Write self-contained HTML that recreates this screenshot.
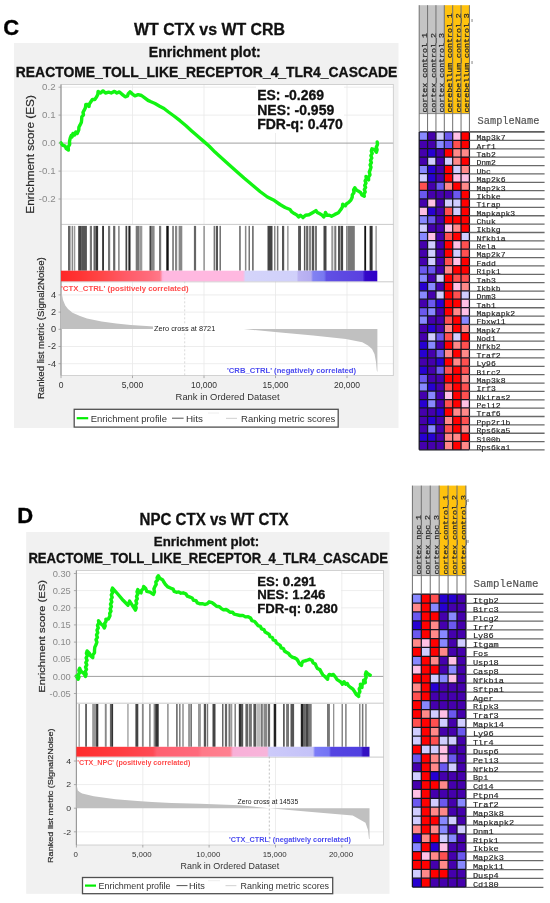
<!DOCTYPE html>
<html><head><meta charset="utf-8"><style>
html,body{margin:0;padding:0;background:#fff;width:550px;height:903px;overflow:hidden}
svg{display:block;filter:blur(0.45px)}

</style></head><body>
<svg width="550" height="903" viewBox="0 0 550 903" font-family="&quot;Liberation Sans&quot;, sans-serif">
<rect width="550" height="903" fill="#ffffff"/>
<text x="3.2" y="34.6" font-size="22" font-weight="bold" fill="#000" stroke="#000" stroke-width="0.35">C</text>
<text x="134" y="35.4" font-size="16" font-weight="bold" fill="#111" stroke="#111" stroke-width="0.3" textLength="151" lengthAdjust="spacingAndGlyphs">WT CTX vs WT CRB</text>
<rect x="14" y="43" width="384.5" height="385" fill="#f1f1f1"/>
<text x="148.8" y="57" font-size="14" font-weight="bold" fill="#111" stroke="#111" stroke-width="0.3" textLength="112" lengthAdjust="spacingAndGlyphs">Enrichment plot:</text>
<text x="15.8" y="76.6" font-size="14.6" font-weight="bold" fill="#111" stroke="#111" stroke-width="0.3" textLength="381.5" lengthAdjust="spacingAndGlyphs">REACTOME_TOLL_LIKE_RECEPTOR_4_TLR4_CASCADE</text>
<rect x="61.0" y="84.5" width="332.3" height="291.1" fill="#ffffff"/>
<line x1="61.0" y1="87.2" x2="393.3" y2="87.2" stroke="#e9e9e9" stroke-width="0.8"/>
<line x1="61.0" y1="115.1" x2="393.3" y2="115.1" stroke="#e9e9e9" stroke-width="0.8"/>
<line x1="61.0" y1="171.1" x2="393.3" y2="171.1" stroke="#e9e9e9" stroke-width="0.8"/>
<line x1="61.0" y1="199.0" x2="393.3" y2="199.0" stroke="#e9e9e9" stroke-width="0.8"/>
<line x1="132.5" y1="84.5" x2="132.5" y2="224.4" stroke="#e9e9e9" stroke-width="0.8"/>
<line x1="132.5" y1="281.3" x2="132.5" y2="375.6" stroke="#e9e9e9" stroke-width="0.8"/>
<line x1="204.0" y1="84.5" x2="204.0" y2="224.4" stroke="#e9e9e9" stroke-width="0.8"/>
<line x1="204.0" y1="281.3" x2="204.0" y2="375.6" stroke="#e9e9e9" stroke-width="0.8"/>
<line x1="275.5" y1="84.5" x2="275.5" y2="224.4" stroke="#e9e9e9" stroke-width="0.8"/>
<line x1="275.5" y1="281.3" x2="275.5" y2="375.6" stroke="#e9e9e9" stroke-width="0.8"/>
<line x1="347.0" y1="84.5" x2="347.0" y2="224.4" stroke="#e9e9e9" stroke-width="0.8"/>
<line x1="347.0" y1="281.3" x2="347.0" y2="375.6" stroke="#e9e9e9" stroke-width="0.8"/>
<line x1="61.0" y1="294.9" x2="393.3" y2="294.9" stroke="#e9e9e9" stroke-width="0.8"/>
<line x1="61.0" y1="312.1" x2="393.3" y2="312.1" stroke="#e9e9e9" stroke-width="0.8"/>
<line x1="61.0" y1="346.5" x2="393.3" y2="346.5" stroke="#e9e9e9" stroke-width="0.8"/>
<line x1="61.0" y1="363.7" x2="393.3" y2="363.7" stroke="#e9e9e9" stroke-width="0.8"/>
<line x1="61.0" y1="143.1" x2="393.3" y2="143.1" stroke="#a0a0a0" stroke-width="1"/>
<rect x="61.0" y="84.5" width="332.3" height="291.1" fill="none" stroke="#c8c8c8" stroke-width="0.8"/>
<line x1="61.0" y1="224.4" x2="393.3" y2="224.4" stroke="#bdbdbd" stroke-width="0.8"/>
<line x1="61.0" y1="281.8" x2="393.3" y2="281.8" stroke="#bdbdbd" stroke-width="0.8"/>
<line x1="61.0" y1="84.5" x2="61.0" y2="375.6" stroke="#9a9a9a" stroke-width="1.2"/>
<polyline points="61.0,142.9 62.5,145.1 65.1,146.1 66.2,148.6 68.4,150.0 68.2,147.0 69.7,144.3 69.5,141.3 70.3,137.8 71.2,135.5 72.0,137.0 73.0,133.5 74.5,135.0 75.8,132.0 77.2,133.5 78.8,129.8 78.9,127.2 80.1,124.9 81.4,122.2 81.7,119.2 81.8,116.8 83.5,114.8 83.0,112.3 84.2,110.2 85.5,107.5 85.8,104.5 87.5,104.5 89.0,106.5 89.3,104.1 90.7,102.0 92.4,99.5 94.8,99.5 96.5,97.1 97.8,94.4 98.1,91.4 100.6,93.0 103.0,90.9 105.5,93.0 108.7,92.2 111.2,93.0 114.5,91.4 116.9,93.0 119.4,91.9 121.8,94.1 125.1,96.8 127.6,95.8 128.3,93.6 130.0,91.9 132.5,94.1 134.9,95.8 138.2,94.6 141.5,95.5 144.7,97.9 148.0,100.4 151.0,101.8 155.0,103.5 159.7,106.2 164.0,108.5 168.5,112.0 174.0,116.0 180.0,120.7 186.0,125.7 191.7,130.9 197.5,136.0 203.4,141.1 209.0,146.0 215.0,152.1 217.7,154.5 226.0,162.0 235.5,170.4 244.0,178.0 253.2,185.7 260.0,191.5 267.4,197.0 274.5,200.6 280.0,204.5 285.1,207.5 290.0,209.5 291.8,211.9 294.3,213.6 296.8,214.9 298.6,217.0 300.4,215.3 303.0,217.6 305.5,215.3 309.0,214.8 312.5,212.7 315.9,210.6 317.3,212.5 319.4,213.6 321.9,214.9 323.7,217.0 325.1,214.9 325.4,212.4 327.1,215.3 329.4,215.2 331.5,216.2 334.9,214.4 338.4,212.7 341.0,209.3 342.4,206.9 342.7,204.1 345.3,205.8 346.6,203.7 348.7,202.4 350.9,200.1 352.2,197.2 352.3,194.7 354.0,192.6 353.6,189.9 354.8,187.7 356.1,189.8 358.2,191.1 360.6,192.4 361.9,195.0 364.3,196.3 363.9,194.1 365.2,191.9 364.3,189.7 365.6,187.5 364.7,185.3 366.0,183.1 365.1,180.9 366.4,178.7 366.0,176.5 368.6,179.9 368.5,177.2 370.0,174.8 369.3,172.0 370.3,169.5 371.0,167.2 370.1,164.9 371.4,162.6 370.5,160.3 371.8,158.0 370.9,155.7 372.2,153.4 371.3,151.1 372.0,148.8 374.6,149.7 376.4,152.3 377.1,149.7 376.3,147.1 377.5,144.5 377.2,141.9" fill="none" stroke="#12f412" stroke-width="3.4" stroke-linejoin="round" stroke-linecap="round"/>
<rect x="68.0" y="225.9" width="2.5" height="44.8" fill="#666"/>
<rect x="71.6" y="225.9" width="1.5" height="44.8" fill="#888"/>
<rect x="73.8" y="225.9" width="1.5" height="44.8" fill="#999"/>
<rect x="78.2" y="225.9" width="2.9" height="44.8" fill="#444"/>
<rect x="81.1" y="225.9" width="5.8" height="44.8" fill="#555"/>
<rect x="89.8" y="225.9" width="2.2" height="44.8" fill="#777"/>
<rect x="93.5" y="225.9" width="2.1" height="44.8" fill="#666"/>
<rect x="95.6" y="225.9" width="2.5" height="44.8" fill="#333"/>
<rect x="102.2" y="225.9" width="1.7" height="44.8" fill="#222"/>
<rect x="108.0" y="225.9" width="2.2" height="44.8" fill="#777"/>
<rect x="113.1" y="225.9" width="2.2" height="44.8" fill="#666"/>
<rect x="118.2" y="225.9" width="1.4" height="44.8" fill="#777"/>
<rect x="125.5" y="225.9" width="1.7" height="44.8" fill="#444"/>
<rect x="128.4" y="225.9" width="2.1" height="44.8" fill="#222"/>
<rect x="135.7" y="225.9" width="3.7" height="44.8" fill="#777"/>
<rect x="139.4" y="225.9" width="2.9" height="44.8" fill="#999"/>
<rect x="149.5" y="225.9" width="2.2" height="44.8" fill="#444"/>
<rect x="151.7" y="225.9" width="2.9" height="44.8" fill="#888"/>
<rect x="159.0" y="225.9" width="2.2" height="44.8" fill="#777"/>
<rect x="166.3" y="225.9" width="2.4" height="44.8" fill="#111"/>
<rect x="172.1" y="225.9" width="1.9" height="44.8" fill="#888"/>
<rect x="175.0" y="225.9" width="2.2" height="44.8" fill="#888"/>
<rect x="178.6" y="225.9" width="3.7" height="44.8" fill="#888"/>
<rect x="193.9" y="225.9" width="2.2" height="44.8" fill="#666"/>
<rect x="203.4" y="225.9" width="1.4" height="44.8" fill="#888"/>
<rect x="213.6" y="225.9" width="1.5" height="44.8" fill="#777"/>
<rect x="215.8" y="225.9" width="2.2" height="44.8" fill="#555"/>
<rect x="219.5" y="225.9" width="1.4" height="44.8" fill="#666"/>
<rect x="239.1" y="225.9" width="1.7" height="44.8" fill="#777"/>
<rect x="244.9" y="225.9" width="1.5" height="44.8" fill="#888"/>
<rect x="248.5" y="225.9" width="1.5" height="44.8" fill="#777"/>
<rect x="252.2" y="225.9" width="1.4" height="44.8" fill="#555"/>
<rect x="267.5" y="225.9" width="5.0" height="44.8" fill="#444"/>
<rect x="274.0" y="225.9" width="1.5" height="44.8" fill="#888"/>
<rect x="276.9" y="225.9" width="1.5" height="44.8" fill="#777"/>
<rect x="282.0" y="225.9" width="2.2" height="44.8" fill="#555"/>
<rect x="287.1" y="225.9" width="1.5" height="44.8" fill="#999"/>
<rect x="298.1" y="225.9" width="2.9" height="44.8" fill="#555"/>
<rect x="303.9" y="225.9" width="1.5" height="44.8" fill="#555"/>
<rect x="306.1" y="225.9" width="2.2" height="44.8" fill="#666"/>
<rect x="309.0" y="225.9" width="2.2" height="44.8" fill="#888"/>
<rect x="311.9" y="225.9" width="2.2" height="44.8" fill="#555"/>
<rect x="314.8" y="225.9" width="2.2" height="44.8" fill="#777"/>
<rect x="323.5" y="225.9" width="3.0" height="44.8" fill="#444"/>
<rect x="331.3" y="225.9" width="2.0" height="44.8" fill="#999"/>
<rect x="334.3" y="225.9" width="2.0" height="44.8" fill="#777"/>
<rect x="338.0" y="225.9" width="2.2" height="44.8" fill="#555"/>
<rect x="340.6" y="225.9" width="2.5" height="44.8" fill="#444"/>
<rect x="346.0" y="225.9" width="1.7" height="44.8" fill="#888"/>
<rect x="347.7" y="225.9" width="7.1" height="44.8" fill="#777"/>
<rect x="364.3" y="225.9" width="1.8" height="44.8" fill="#111"/>
<rect x="369.6" y="225.9" width="3.0" height="44.8" fill="#333"/>
<rect x="375.5" y="225.9" width="1.2" height="44.8" fill="#888"/>
<defs><linearGradient id="g1" x1="0" x2="1" y1="0" y2="0"><stop offset="0.0000" stop-color="#ff2828"/><stop offset="0.0601" stop-color="#ff3434"/><stop offset="0.1233" stop-color="#ff4545"/><stop offset="0.2023" stop-color="#ff5a66"/><stop offset="0.2814" stop-color="#ff6c7c"/><stop offset="0.3130" stop-color="#ff7888"/><stop offset="0.3209" stop-color="#ffb0d8"/><stop offset="0.3256" stop-color="#ffb8e0"/><stop offset="0.5754" stop-color="#ffb8e0"/><stop offset="0.5833" stop-color="#d4d4fa"/><stop offset="0.7445" stop-color="#d0d0fa"/><stop offset="0.7509" stop-color="#bcb4f2"/><stop offset="0.7904" stop-color="#b4acf0"/><stop offset="0.7967" stop-color="#8282f2"/><stop offset="0.8315" stop-color="#7878f0"/><stop offset="0.8394" stop-color="#6050e4"/><stop offset="0.9532" stop-color="#5a40e0"/><stop offset="0.9611" stop-color="#3408c8"/><stop offset="1.0000" stop-color="#3000c8"/></linearGradient></defs><rect x="61.0" y="270.7" width="316.3" height="10.6" fill="url(#g1)"/>
<polygon points="61,283.5 61.6,292.4 63,300 65.3,305.5 68,309 72.5,312.7 80,316 87,318.5 101.6,321.5 116.2,323.6 130.7,325.1 154,326.6 170,327.8 185.7,329.0 185.7,329.0 61,329.0" fill="#c0c0c0"/>
<polygon points="243.8,329.1 280.4,332.4 313.2,335.6 345.9,339.0 362.3,342.2 368,345.5 372,349 374.5,354 376.0,362 376.8,370.4 377.4,372 377.4,329.0" fill="#c0c0c0"/>
<line x1="184.7" y1="281.3" x2="184.7" y2="375.6" stroke="#cfcfcf" stroke-width="0.8" stroke-dasharray="2,2"/>
<rect x="153" y="324.6" width="63" height="8.6" fill="#ffffff"/>
<text x="61" y="291.2" font-size="7.9" font-weight="bold" fill="#ff4a4a" textLength="127.5" lengthAdjust="spacingAndGlyphs">'CTX_CTRL' (positively correlated)</text>
<text x="227" y="372.5" font-size="7.9" font-weight="bold" fill="#4a4af0" textLength="129" lengthAdjust="spacingAndGlyphs">'CRB_CTRL' (negatively correlated)</text>
<text x="154" y="331.4" font-size="7.6" fill="#222" textLength="61.3" lengthAdjust="spacingAndGlyphs">Zero cross at 8721</text>
<text x="55.6" y="90.5" font-size="9.2" fill="#8a8a8a" text-anchor="end" transform="translate(55.6,0) scale(1.06,1) translate(-55.6,0)">0.2</text>
<line x1="58.5" y1="87.2" x2="61.0" y2="87.2" stroke="#999" stroke-width="0.8"/>
<text x="55.6" y="118.4" font-size="9.2" fill="#8a8a8a" text-anchor="end" transform="translate(55.6,0) scale(1.06,1) translate(-55.6,0)">0.1</text>
<line x1="58.5" y1="115.1" x2="61.0" y2="115.1" stroke="#999" stroke-width="0.8"/>
<text x="55.6" y="146.4" font-size="9.2" fill="#8a8a8a" text-anchor="end" transform="translate(55.6,0) scale(1.06,1) translate(-55.6,0)">0.0</text>
<line x1="58.5" y1="143.1" x2="61.0" y2="143.1" stroke="#999" stroke-width="0.8"/>
<text x="55.6" y="174.4" font-size="9.2" fill="#8a8a8a" text-anchor="end" transform="translate(55.6,0) scale(1.06,1) translate(-55.6,0)">-0.1</text>
<line x1="58.5" y1="171.1" x2="61.0" y2="171.1" stroke="#999" stroke-width="0.8"/>
<text x="55.6" y="202.3" font-size="9.2" fill="#8a8a8a" text-anchor="end" transform="translate(55.6,0) scale(1.06,1) translate(-55.6,0)">-0.2</text>
<line x1="58.5" y1="199.0" x2="61.0" y2="199.0" stroke="#999" stroke-width="0.8"/>
<text x="56" y="297.9" font-size="8.2" fill="#333" text-anchor="end" transform="translate(56,0) scale(1.12,1) translate(-56,0)">4</text>
<line x1="58.5" y1="294.9" x2="61.0" y2="294.9" stroke="#999" stroke-width="0.8"/>
<text x="56" y="315.1" font-size="8.2" fill="#333" text-anchor="end" transform="translate(56,0) scale(1.12,1) translate(-56,0)">2</text>
<line x1="58.5" y1="312.1" x2="61.0" y2="312.1" stroke="#999" stroke-width="0.8"/>
<text x="56" y="332.3" font-size="8.2" fill="#333" text-anchor="end" transform="translate(56,0) scale(1.12,1) translate(-56,0)">0</text>
<line x1="58.5" y1="329.3" x2="61.0" y2="329.3" stroke="#999" stroke-width="0.8"/>
<text x="56" y="349.5" font-size="8.2" fill="#333" text-anchor="end" transform="translate(56,0) scale(1.12,1) translate(-56,0)">-2</text>
<line x1="58.5" y1="346.5" x2="61.0" y2="346.5" stroke="#999" stroke-width="0.8"/>
<text x="56" y="366.7" font-size="8.2" fill="#333" text-anchor="end" transform="translate(56,0) scale(1.12,1) translate(-56,0)">-4</text>
<line x1="58.5" y1="363.7" x2="61.0" y2="363.7" stroke="#999" stroke-width="0.8"/>
<text x="61.0" y="388.0" font-size="8.5" fill="#333" text-anchor="middle">0</text>
<line x1="61.0" y1="375.6" x2="61.0" y2="378.1" stroke="#999" stroke-width="0.8"/>
<text x="132.5" y="388.0" font-size="8.5" fill="#333" text-anchor="middle">5,000</text>
<line x1="132.5" y1="375.6" x2="132.5" y2="378.1" stroke="#999" stroke-width="0.8"/>
<text x="204.0" y="388.0" font-size="8.5" fill="#333" text-anchor="middle">10,000</text>
<line x1="204.0" y1="375.6" x2="204.0" y2="378.1" stroke="#999" stroke-width="0.8"/>
<text x="275.5" y="388.0" font-size="8.5" fill="#333" text-anchor="middle">15,000</text>
<line x1="275.5" y1="375.6" x2="275.5" y2="378.1" stroke="#999" stroke-width="0.8"/>
<text x="347.0" y="388.0" font-size="8.5" fill="#333" text-anchor="middle">20,000</text>
<line x1="347.0" y1="375.6" x2="347.0" y2="378.1" stroke="#999" stroke-width="0.8"/>
<text x="175.6" y="400.4" font-size="8.6" fill="#333" textLength="104" lengthAdjust="spacingAndGlyphs">Rank in Ordered Dataset</text>
<text transform="translate(34.2,213.7) rotate(-90)" font-size="10.3" fill="#2a2a2a" stroke="#2a2a2a" stroke-width="0.2" textLength="118.6" lengthAdjust="spacingAndGlyphs">Enrichment score (ES)</text>
<text transform="translate(43.6,399.1) rotate(-90)" font-size="8.4" fill="#2a2a2a" stroke="#2a2a2a" stroke-width="0.2" textLength="141.8" lengthAdjust="spacingAndGlyphs">Ranked list metric (Signal2Noise)</text>
<rect x="256" y="85" width="88" height="48" fill="#ffffff"/>
<text x="257.2" y="100.3" font-size="14" font-weight="bold" fill="#111" stroke="#111" stroke-width="0.3">ES: -0.269</text>
<text x="257.2" y="114.6" font-size="14" font-weight="bold" fill="#111" stroke="#111" stroke-width="0.3">NES: -0.959</text>
<text x="257.2" y="129.2" font-size="14" font-weight="bold" fill="#111" stroke="#111" stroke-width="0.3">FDR-q: 0.470</text>
<rect x="74.2" y="409.3" width="264" height="17.8" fill="#ffffff" stroke="#505050" stroke-width="1.3"/>
<line x1="76.7" y1="418.2" x2="88.2" y2="418.2" stroke="#00ee00" stroke-width="2.2"/>
<text x="90.7" y="421.6" font-size="8.6" fill="#333" textLength="76.3" lengthAdjust="spacingAndGlyphs">Enrichment profile</text>
<line x1="172" y1="418.2" x2="183.6" y2="418.2" stroke="#555" stroke-width="1"/>
<text x="186" y="421.6" font-size="8.6" fill="#333" textLength="17" lengthAdjust="spacingAndGlyphs">Hits</text>
<line x1="226" y1="418.4" x2="237" y2="418.4" stroke="#d8d8d8" stroke-width="1.2"/>
<line x1="208" y1="413" x2="219" y2="413" stroke="#eeeeee" stroke-width="1"/>
<text x="241" y="421.6" font-size="8.6" fill="#333" textLength="94.2" lengthAdjust="spacingAndGlyphs">Ranking metric scores</text>
<rect x="419.20" y="5.20" width="8.37" height="108.40" fill="#c4c4c4"/>
<rect x="427.57" y="5.20" width="8.37" height="108.40" fill="#c4c4c4"/>
<rect x="435.94" y="5.20" width="8.37" height="108.40" fill="#c4c4c4"/>
<rect x="444.31" y="5.20" width="8.37" height="108.40" fill="#ffc20e"/>
<rect x="452.68" y="5.20" width="8.37" height="108.40" fill="#ffc20e"/>
<rect x="461.05" y="5.20" width="8.37" height="108.40" fill="#ffc20e"/>
<text x="0" y="0" transform="translate(427.17,112.60) rotate(-90) scale(1,0.85)" font-family="&quot;Liberation Mono&quot;, monospace" font-size="8.3" fill="#262626" stroke="#262626" stroke-width="0.25">cortex_control_1</text>
<text x="0" y="0" transform="translate(435.54,112.60) rotate(-90) scale(1,0.85)" font-family="&quot;Liberation Mono&quot;, monospace" font-size="8.3" fill="#262626" stroke="#262626" stroke-width="0.25">cortex_control_2</text>
<text x="0" y="0" transform="translate(443.91,112.60) rotate(-90) scale(1,0.85)" font-family="&quot;Liberation Mono&quot;, monospace" font-size="8.3" fill="#262626" stroke="#262626" stroke-width="0.25">cortex_control_3</text>
<text x="0" y="0" transform="translate(452.28,112.60) rotate(-90) scale(1,0.85)" font-family="&quot;Liberation Mono&quot;, monospace" font-size="8.3" fill="#262626" stroke="#262626" stroke-width="0.25">cerebellum_control_1</text>
<text x="0" y="0" transform="translate(460.65,112.60) rotate(-90) scale(1,0.85)" font-family="&quot;Liberation Mono&quot;, monospace" font-size="8.3" fill="#262626" stroke="#262626" stroke-width="0.25">cerebellum_control_2</text>
<text x="0" y="0" transform="translate(469.02,112.60) rotate(-90) scale(1,0.85)" font-family="&quot;Liberation Mono&quot;, monospace" font-size="8.3" fill="#262626" stroke="#262626" stroke-width="0.25">cerebellum_control_3</text>
<rect x="419.20" y="113.60" width="50.22" height="18.30" fill="#ffffff"/>
<rect x="419.20" y="131.90" width="8.37" height="8.37" fill="#8888ff"/>
<rect x="427.57" y="131.90" width="8.37" height="8.37" fill="#4500ad"/>
<rect x="435.94" y="131.90" width="8.37" height="8.37" fill="#d0cdff"/>
<rect x="444.31" y="131.90" width="8.37" height="8.37" fill="#6b58ef"/>
<rect x="452.68" y="131.90" width="8.37" height="8.37" fill="#ffc0e5"/>
<rect x="461.05" y="131.90" width="8.37" height="8.37" fill="#ff0000"/>
<rect x="419.20" y="140.27" width="8.37" height="8.37" fill="#4500ad"/>
<rect x="427.57" y="140.27" width="8.37" height="8.37" fill="#4500ad"/>
<rect x="435.94" y="140.27" width="8.37" height="8.37" fill="#8888ff"/>
<rect x="444.31" y="140.27" width="8.37" height="8.37" fill="#6b58ef"/>
<rect x="452.68" y="140.27" width="8.37" height="8.37" fill="#ff5050"/>
<rect x="461.05" y="140.27" width="8.37" height="8.37" fill="#ff0000"/>
<rect x="419.20" y="148.63" width="8.37" height="8.37" fill="#4500ad"/>
<rect x="427.57" y="148.63" width="8.37" height="8.37" fill="#2700d1"/>
<rect x="435.94" y="148.63" width="8.37" height="8.37" fill="#4500ad"/>
<rect x="444.31" y="148.63" width="8.37" height="8.37" fill="#ff0000"/>
<rect x="452.68" y="148.63" width="8.37" height="8.37" fill="#ff8989"/>
<rect x="461.05" y="148.63" width="8.37" height="8.37" fill="#ff8989"/>
<rect x="419.20" y="157.00" width="8.37" height="8.37" fill="#4500ad"/>
<rect x="427.57" y="157.00" width="8.37" height="8.37" fill="#d0cdff"/>
<rect x="435.94" y="157.00" width="8.37" height="8.37" fill="#4500ad"/>
<rect x="444.31" y="157.00" width="8.37" height="8.37" fill="#d0cdff"/>
<rect x="452.68" y="157.00" width="8.37" height="8.37" fill="#ff8989"/>
<rect x="461.05" y="157.00" width="8.37" height="8.37" fill="#ff0000"/>
<rect x="419.20" y="165.36" width="8.37" height="8.37" fill="#8888ff"/>
<rect x="427.57" y="165.36" width="8.37" height="8.37" fill="#2700d1"/>
<rect x="435.94" y="165.36" width="8.37" height="8.37" fill="#4500ad"/>
<rect x="444.31" y="165.36" width="8.37" height="8.37" fill="#ff0000"/>
<rect x="452.68" y="165.36" width="8.37" height="8.37" fill="#d0cdff"/>
<rect x="461.05" y="165.36" width="8.37" height="8.37" fill="#ff8989"/>
<rect x="419.20" y="173.73" width="8.37" height="8.37" fill="#d0cdff"/>
<rect x="427.57" y="173.73" width="8.37" height="8.37" fill="#2700d1"/>
<rect x="435.94" y="173.73" width="8.37" height="8.37" fill="#4500ad"/>
<rect x="444.31" y="173.73" width="8.37" height="8.37" fill="#ff0000"/>
<rect x="452.68" y="173.73" width="8.37" height="8.37" fill="#ffc0e5"/>
<rect x="461.05" y="173.73" width="8.37" height="8.37" fill="#ffc0e5"/>
<rect x="419.20" y="182.09" width="8.37" height="8.37" fill="#ff5050"/>
<rect x="427.57" y="182.09" width="8.37" height="8.37" fill="#4500ad"/>
<rect x="435.94" y="182.09" width="8.37" height="8.37" fill="#6b58ef"/>
<rect x="444.31" y="182.09" width="8.37" height="8.37" fill="#ff8989"/>
<rect x="452.68" y="182.09" width="8.37" height="8.37" fill="#ff0000"/>
<rect x="461.05" y="182.09" width="8.37" height="8.37" fill="#ff8989"/>
<rect x="419.20" y="190.46" width="8.37" height="8.37" fill="#6b58ef"/>
<rect x="427.57" y="190.46" width="8.37" height="8.37" fill="#4500ad"/>
<rect x="435.94" y="190.46" width="8.37" height="8.37" fill="#4500ad"/>
<rect x="444.31" y="190.46" width="8.37" height="8.37" fill="#4500ad"/>
<rect x="452.68" y="190.46" width="8.37" height="8.37" fill="#6b58ef"/>
<rect x="461.05" y="190.46" width="8.37" height="8.37" fill="#ff0000"/>
<rect x="419.20" y="198.82" width="8.37" height="8.37" fill="#4500ad"/>
<rect x="427.57" y="198.82" width="8.37" height="8.37" fill="#ffc0e5"/>
<rect x="435.94" y="198.82" width="8.37" height="8.37" fill="#4500ad"/>
<rect x="444.31" y="198.82" width="8.37" height="8.37" fill="#d0cdff"/>
<rect x="452.68" y="198.82" width="8.37" height="8.37" fill="#d0cdff"/>
<rect x="461.05" y="198.82" width="8.37" height="8.37" fill="#ff0000"/>
<rect x="419.20" y="207.19" width="8.37" height="8.37" fill="#ffc0e5"/>
<rect x="427.57" y="207.19" width="8.37" height="8.37" fill="#2700d1"/>
<rect x="435.94" y="207.19" width="8.37" height="8.37" fill="#4500ad"/>
<rect x="444.31" y="207.19" width="8.37" height="8.37" fill="#ff5050"/>
<rect x="452.68" y="207.19" width="8.37" height="8.37" fill="#d0cdff"/>
<rect x="461.05" y="207.19" width="8.37" height="8.37" fill="#ff0000"/>
<rect x="419.20" y="215.55" width="8.37" height="8.37" fill="#8888ff"/>
<rect x="427.57" y="215.55" width="8.37" height="8.37" fill="#6b58ef"/>
<rect x="435.94" y="215.55" width="8.37" height="8.37" fill="#4500ad"/>
<rect x="444.31" y="215.55" width="8.37" height="8.37" fill="#ff0000"/>
<rect x="452.68" y="215.55" width="8.37" height="8.37" fill="#ff0000"/>
<rect x="461.05" y="215.55" width="8.37" height="8.37" fill="#ff0000"/>
<rect x="419.20" y="223.92" width="8.37" height="8.37" fill="#d0cdff"/>
<rect x="427.57" y="223.92" width="8.37" height="8.37" fill="#4500ad"/>
<rect x="435.94" y="223.92" width="8.37" height="8.37" fill="#4500ad"/>
<rect x="444.31" y="223.92" width="8.37" height="8.37" fill="#ffc0e5"/>
<rect x="452.68" y="223.92" width="8.37" height="8.37" fill="#ff8989"/>
<rect x="461.05" y="223.92" width="8.37" height="8.37" fill="#ff0000"/>
<rect x="419.20" y="232.28" width="8.37" height="8.37" fill="#8888ff"/>
<rect x="427.57" y="232.28" width="8.37" height="8.37" fill="#ffc0e5"/>
<rect x="435.94" y="232.28" width="8.37" height="8.37" fill="#4500ad"/>
<rect x="444.31" y="232.28" width="8.37" height="8.37" fill="#ff5050"/>
<rect x="452.68" y="232.28" width="8.37" height="8.37" fill="#ff0000"/>
<rect x="461.05" y="232.28" width="8.37" height="8.37" fill="#d0cdff"/>
<rect x="419.20" y="240.65" width="8.37" height="8.37" fill="#4500ad"/>
<rect x="427.57" y="240.65" width="8.37" height="8.37" fill="#d0cdff"/>
<rect x="435.94" y="240.65" width="8.37" height="8.37" fill="#4500ad"/>
<rect x="444.31" y="240.65" width="8.37" height="8.37" fill="#ff0000"/>
<rect x="452.68" y="240.65" width="8.37" height="8.37" fill="#ffc0e5"/>
<rect x="461.05" y="240.65" width="8.37" height="8.37" fill="#ff5050"/>
<rect x="419.20" y="249.01" width="8.37" height="8.37" fill="#4500ad"/>
<rect x="427.57" y="249.01" width="8.37" height="8.37" fill="#d0cdff"/>
<rect x="435.94" y="249.01" width="8.37" height="8.37" fill="#4500ad"/>
<rect x="444.31" y="249.01" width="8.37" height="8.37" fill="#ff0000"/>
<rect x="452.68" y="249.01" width="8.37" height="8.37" fill="#d0cdff"/>
<rect x="461.05" y="249.01" width="8.37" height="8.37" fill="#ff5050"/>
<rect x="419.20" y="257.38" width="8.37" height="8.37" fill="#4500ad"/>
<rect x="427.57" y="257.38" width="8.37" height="8.37" fill="#d0cdff"/>
<rect x="435.94" y="257.38" width="8.37" height="8.37" fill="#4500ad"/>
<rect x="444.31" y="257.38" width="8.37" height="8.37" fill="#ff5050"/>
<rect x="452.68" y="257.38" width="8.37" height="8.37" fill="#ffc0e5"/>
<rect x="461.05" y="257.38" width="8.37" height="8.37" fill="#ff0000"/>
<rect x="419.20" y="265.74" width="8.37" height="8.37" fill="#6b58ef"/>
<rect x="427.57" y="265.74" width="8.37" height="8.37" fill="#6b58ef"/>
<rect x="435.94" y="265.74" width="8.37" height="8.37" fill="#4500ad"/>
<rect x="444.31" y="265.74" width="8.37" height="8.37" fill="#ff8989"/>
<rect x="452.68" y="265.74" width="8.37" height="8.37" fill="#ff0000"/>
<rect x="461.05" y="265.74" width="8.37" height="8.37" fill="#ff0000"/>
<rect x="419.20" y="274.11" width="8.37" height="8.37" fill="#8888ff"/>
<rect x="427.57" y="274.11" width="8.37" height="8.37" fill="#4500ad"/>
<rect x="435.94" y="274.11" width="8.37" height="8.37" fill="#d0cdff"/>
<rect x="444.31" y="274.11" width="8.37" height="8.37" fill="#ff0000"/>
<rect x="452.68" y="274.11" width="8.37" height="8.37" fill="#ff5050"/>
<rect x="461.05" y="274.11" width="8.37" height="8.37" fill="#ff5050"/>
<rect x="419.20" y="282.47" width="8.37" height="8.37" fill="#2700d1"/>
<rect x="427.57" y="282.47" width="8.37" height="8.37" fill="#8888ff"/>
<rect x="435.94" y="282.47" width="8.37" height="8.37" fill="#4500ad"/>
<rect x="444.31" y="282.47" width="8.37" height="8.37" fill="#ff0000"/>
<rect x="452.68" y="282.47" width="8.37" height="8.37" fill="#ffc0e5"/>
<rect x="461.05" y="282.47" width="8.37" height="8.37" fill="#ff8989"/>
<rect x="419.20" y="290.84" width="8.37" height="8.37" fill="#8888ff"/>
<rect x="427.57" y="290.84" width="8.37" height="8.37" fill="#4500ad"/>
<rect x="435.94" y="290.84" width="8.37" height="8.37" fill="#d0cdff"/>
<rect x="444.31" y="290.84" width="8.37" height="8.37" fill="#ff0000"/>
<rect x="452.68" y="290.84" width="8.37" height="8.37" fill="#ff5050"/>
<rect x="461.05" y="290.84" width="8.37" height="8.37" fill="#d0cdff"/>
<rect x="419.20" y="299.20" width="8.37" height="8.37" fill="#4500ad"/>
<rect x="427.57" y="299.20" width="8.37" height="8.37" fill="#6b58ef"/>
<rect x="435.94" y="299.20" width="8.37" height="8.37" fill="#2700d1"/>
<rect x="444.31" y="299.20" width="8.37" height="8.37" fill="#ff0000"/>
<rect x="452.68" y="299.20" width="8.37" height="8.37" fill="#ff0000"/>
<rect x="461.05" y="299.20" width="8.37" height="8.37" fill="#ffc0e5"/>
<rect x="419.20" y="307.56" width="8.37" height="8.37" fill="#6b58ef"/>
<rect x="427.57" y="307.56" width="8.37" height="8.37" fill="#8888ff"/>
<rect x="435.94" y="307.56" width="8.37" height="8.37" fill="#4500ad"/>
<rect x="444.31" y="307.56" width="8.37" height="8.37" fill="#ff0000"/>
<rect x="452.68" y="307.56" width="8.37" height="8.37" fill="#ff8989"/>
<rect x="461.05" y="307.56" width="8.37" height="8.37" fill="#ffc0e5"/>
<rect x="419.20" y="315.93" width="8.37" height="8.37" fill="#8888ff"/>
<rect x="427.57" y="315.93" width="8.37" height="8.37" fill="#4500ad"/>
<rect x="435.94" y="315.93" width="8.37" height="8.37" fill="#4500ad"/>
<rect x="444.31" y="315.93" width="8.37" height="8.37" fill="#ff5050"/>
<rect x="452.68" y="315.93" width="8.37" height="8.37" fill="#ff0000"/>
<rect x="461.05" y="315.93" width="8.37" height="8.37" fill="#8888ff"/>
<rect x="419.20" y="324.30" width="8.37" height="8.37" fill="#4500ad"/>
<rect x="427.57" y="324.30" width="8.37" height="8.37" fill="#2700d1"/>
<rect x="435.94" y="324.30" width="8.37" height="8.37" fill="#4500ad"/>
<rect x="444.31" y="324.30" width="8.37" height="8.37" fill="#ff8989"/>
<rect x="452.68" y="324.30" width="8.37" height="8.37" fill="#ff0000"/>
<rect x="461.05" y="324.30" width="8.37" height="8.37" fill="#ff8989"/>
<rect x="419.20" y="332.66" width="8.37" height="8.37" fill="#4500ad"/>
<rect x="427.57" y="332.66" width="8.37" height="8.37" fill="#d0cdff"/>
<rect x="435.94" y="332.66" width="8.37" height="8.37" fill="#6b58ef"/>
<rect x="444.31" y="332.66" width="8.37" height="8.37" fill="#ff5050"/>
<rect x="452.68" y="332.66" width="8.37" height="8.37" fill="#d0cdff"/>
<rect x="461.05" y="332.66" width="8.37" height="8.37" fill="#ff0000"/>
<rect x="419.20" y="341.02" width="8.37" height="8.37" fill="#2700d1"/>
<rect x="427.57" y="341.02" width="8.37" height="8.37" fill="#8888ff"/>
<rect x="435.94" y="341.02" width="8.37" height="8.37" fill="#4500ad"/>
<rect x="444.31" y="341.02" width="8.37" height="8.37" fill="#ff0000"/>
<rect x="452.68" y="341.02" width="8.37" height="8.37" fill="#ff8989"/>
<rect x="461.05" y="341.02" width="8.37" height="8.37" fill="#ff5050"/>
<rect x="419.20" y="349.39" width="8.37" height="8.37" fill="#2700d1"/>
<rect x="427.57" y="349.39" width="8.37" height="8.37" fill="#4500ad"/>
<rect x="435.94" y="349.39" width="8.37" height="8.37" fill="#6b58ef"/>
<rect x="444.31" y="349.39" width="8.37" height="8.37" fill="#ff8989"/>
<rect x="452.68" y="349.39" width="8.37" height="8.37" fill="#ff0000"/>
<rect x="461.05" y="349.39" width="8.37" height="8.37" fill="#ff8989"/>
<rect x="419.20" y="357.75" width="8.37" height="8.37" fill="#4500ad"/>
<rect x="427.57" y="357.75" width="8.37" height="8.37" fill="#4500ad"/>
<rect x="435.94" y="357.75" width="8.37" height="8.37" fill="#2700d1"/>
<rect x="444.31" y="357.75" width="8.37" height="8.37" fill="#ff0000"/>
<rect x="452.68" y="357.75" width="8.37" height="8.37" fill="#ff8989"/>
<rect x="461.05" y="357.75" width="8.37" height="8.37" fill="#ff5050"/>
<rect x="419.20" y="366.12" width="8.37" height="8.37" fill="#2700d1"/>
<rect x="427.57" y="366.12" width="8.37" height="8.37" fill="#4500ad"/>
<rect x="435.94" y="366.12" width="8.37" height="8.37" fill="#6b58ef"/>
<rect x="444.31" y="366.12" width="8.37" height="8.37" fill="#ff5050"/>
<rect x="452.68" y="366.12" width="8.37" height="8.37" fill="#ff0000"/>
<rect x="461.05" y="366.12" width="8.37" height="8.37" fill="#ff5050"/>
<rect x="419.20" y="374.49" width="8.37" height="8.37" fill="#6b58ef"/>
<rect x="427.57" y="374.49" width="8.37" height="8.37" fill="#4500ad"/>
<rect x="435.94" y="374.49" width="8.37" height="8.37" fill="#4500ad"/>
<rect x="444.31" y="374.49" width="8.37" height="8.37" fill="#ff0000"/>
<rect x="452.68" y="374.49" width="8.37" height="8.37" fill="#ff0000"/>
<rect x="461.05" y="374.49" width="8.37" height="8.37" fill="#ff8989"/>
<rect x="419.20" y="382.85" width="8.37" height="8.37" fill="#8888ff"/>
<rect x="427.57" y="382.85" width="8.37" height="8.37" fill="#2700d1"/>
<rect x="435.94" y="382.85" width="8.37" height="8.37" fill="#4500ad"/>
<rect x="444.31" y="382.85" width="8.37" height="8.37" fill="#ff5050"/>
<rect x="452.68" y="382.85" width="8.37" height="8.37" fill="#ff0000"/>
<rect x="461.05" y="382.85" width="8.37" height="8.37" fill="#ff5050"/>
<rect x="419.20" y="391.22" width="8.37" height="8.37" fill="#4500ad"/>
<rect x="427.57" y="391.22" width="8.37" height="8.37" fill="#8888ff"/>
<rect x="435.94" y="391.22" width="8.37" height="8.37" fill="#4500ad"/>
<rect x="444.31" y="391.22" width="8.37" height="8.37" fill="#ffc0e5"/>
<rect x="452.68" y="391.22" width="8.37" height="8.37" fill="#ff0000"/>
<rect x="461.05" y="391.22" width="8.37" height="8.37" fill="#ff5050"/>
<rect x="419.20" y="399.58" width="8.37" height="8.37" fill="#2700d1"/>
<rect x="427.57" y="399.58" width="8.37" height="8.37" fill="#8888ff"/>
<rect x="435.94" y="399.58" width="8.37" height="8.37" fill="#4500ad"/>
<rect x="444.31" y="399.58" width="8.37" height="8.37" fill="#ff5050"/>
<rect x="452.68" y="399.58" width="8.37" height="8.37" fill="#ff0000"/>
<rect x="461.05" y="399.58" width="8.37" height="8.37" fill="#ffc0e5"/>
<rect x="419.20" y="407.95" width="8.37" height="8.37" fill="#4500ad"/>
<rect x="427.57" y="407.95" width="8.37" height="8.37" fill="#4500ad"/>
<rect x="435.94" y="407.95" width="8.37" height="8.37" fill="#2700d1"/>
<rect x="444.31" y="407.95" width="8.37" height="8.37" fill="#ff0000"/>
<rect x="452.68" y="407.95" width="8.37" height="8.37" fill="#ff8989"/>
<rect x="461.05" y="407.95" width="8.37" height="8.37" fill="#ff8989"/>
<rect x="419.20" y="416.31" width="8.37" height="8.37" fill="#4500ad"/>
<rect x="427.57" y="416.31" width="8.37" height="8.37" fill="#2700d1"/>
<rect x="435.94" y="416.31" width="8.37" height="8.37" fill="#4500ad"/>
<rect x="444.31" y="416.31" width="8.37" height="8.37" fill="#ff8989"/>
<rect x="452.68" y="416.31" width="8.37" height="8.37" fill="#ff0000"/>
<rect x="461.05" y="416.31" width="8.37" height="8.37" fill="#ff5050"/>
<rect x="419.20" y="424.68" width="8.37" height="8.37" fill="#4500ad"/>
<rect x="427.57" y="424.68" width="8.37" height="8.37" fill="#8888ff"/>
<rect x="435.94" y="424.68" width="8.37" height="8.37" fill="#4500ad"/>
<rect x="444.31" y="424.68" width="8.37" height="8.37" fill="#ff5050"/>
<rect x="452.68" y="424.68" width="8.37" height="8.37" fill="#ff0000"/>
<rect x="461.05" y="424.68" width="8.37" height="8.37" fill="#ff8989"/>
<rect x="419.20" y="433.04" width="8.37" height="8.37" fill="#2700d1"/>
<rect x="427.57" y="433.04" width="8.37" height="8.37" fill="#2700d1"/>
<rect x="435.94" y="433.04" width="8.37" height="8.37" fill="#4500ad"/>
<rect x="444.31" y="433.04" width="8.37" height="8.37" fill="#ff8989"/>
<rect x="452.68" y="433.04" width="8.37" height="8.37" fill="#ff8989"/>
<rect x="461.05" y="433.04" width="8.37" height="8.37" fill="#ff0000"/>
<rect x="419.20" y="441.40" width="8.37" height="8.37" fill="#4500ad"/>
<rect x="427.57" y="441.40" width="8.37" height="8.37" fill="#4500ad"/>
<rect x="435.94" y="441.40" width="8.37" height="8.37" fill="#4500ad"/>
<rect x="444.31" y="441.40" width="8.37" height="8.37" fill="#ff8989"/>
<rect x="452.68" y="441.40" width="8.37" height="8.37" fill="#ff0000"/>
<rect x="461.05" y="441.40" width="8.37" height="8.37" fill="#ff8989"/>
<line x1="419.20" y1="131.90" x2="469.42" y2="131.90" stroke="#141420" stroke-width="1.25"/>
<line x1="419.20" y1="140.27" x2="469.42" y2="140.27" stroke="#141420" stroke-width="1.25"/>
<line x1="419.20" y1="148.63" x2="469.42" y2="148.63" stroke="#141420" stroke-width="1.25"/>
<line x1="419.20" y1="157.00" x2="469.42" y2="157.00" stroke="#141420" stroke-width="1.25"/>
<line x1="419.20" y1="165.36" x2="469.42" y2="165.36" stroke="#141420" stroke-width="1.25"/>
<line x1="419.20" y1="173.73" x2="469.42" y2="173.73" stroke="#141420" stroke-width="1.25"/>
<line x1="419.20" y1="182.09" x2="469.42" y2="182.09" stroke="#141420" stroke-width="1.25"/>
<line x1="419.20" y1="190.46" x2="469.42" y2="190.46" stroke="#141420" stroke-width="1.25"/>
<line x1="419.20" y1="198.82" x2="469.42" y2="198.82" stroke="#141420" stroke-width="1.25"/>
<line x1="419.20" y1="207.19" x2="469.42" y2="207.19" stroke="#141420" stroke-width="1.25"/>
<line x1="419.20" y1="215.55" x2="469.42" y2="215.55" stroke="#141420" stroke-width="1.25"/>
<line x1="419.20" y1="223.92" x2="469.42" y2="223.92" stroke="#141420" stroke-width="1.25"/>
<line x1="419.20" y1="232.28" x2="469.42" y2="232.28" stroke="#141420" stroke-width="1.25"/>
<line x1="419.20" y1="240.65" x2="469.42" y2="240.65" stroke="#141420" stroke-width="1.25"/>
<line x1="419.20" y1="249.01" x2="469.42" y2="249.01" stroke="#141420" stroke-width="1.25"/>
<line x1="419.20" y1="257.38" x2="469.42" y2="257.38" stroke="#141420" stroke-width="1.25"/>
<line x1="419.20" y1="265.74" x2="469.42" y2="265.74" stroke="#141420" stroke-width="1.25"/>
<line x1="419.20" y1="274.11" x2="469.42" y2="274.11" stroke="#141420" stroke-width="1.25"/>
<line x1="419.20" y1="282.47" x2="469.42" y2="282.47" stroke="#141420" stroke-width="1.25"/>
<line x1="419.20" y1="290.84" x2="469.42" y2="290.84" stroke="#141420" stroke-width="1.25"/>
<line x1="419.20" y1="299.20" x2="469.42" y2="299.20" stroke="#141420" stroke-width="1.25"/>
<line x1="419.20" y1="307.56" x2="469.42" y2="307.56" stroke="#141420" stroke-width="1.25"/>
<line x1="419.20" y1="315.93" x2="469.42" y2="315.93" stroke="#141420" stroke-width="1.25"/>
<line x1="419.20" y1="324.30" x2="469.42" y2="324.30" stroke="#141420" stroke-width="1.25"/>
<line x1="419.20" y1="332.66" x2="469.42" y2="332.66" stroke="#141420" stroke-width="1.25"/>
<line x1="419.20" y1="341.02" x2="469.42" y2="341.02" stroke="#141420" stroke-width="1.25"/>
<line x1="419.20" y1="349.39" x2="469.42" y2="349.39" stroke="#141420" stroke-width="1.25"/>
<line x1="419.20" y1="357.75" x2="469.42" y2="357.75" stroke="#141420" stroke-width="1.25"/>
<line x1="419.20" y1="366.12" x2="469.42" y2="366.12" stroke="#141420" stroke-width="1.25"/>
<line x1="419.20" y1="374.49" x2="469.42" y2="374.49" stroke="#141420" stroke-width="1.25"/>
<line x1="419.20" y1="382.85" x2="469.42" y2="382.85" stroke="#141420" stroke-width="1.25"/>
<line x1="419.20" y1="391.22" x2="469.42" y2="391.22" stroke="#141420" stroke-width="1.25"/>
<line x1="419.20" y1="399.58" x2="469.42" y2="399.58" stroke="#141420" stroke-width="1.25"/>
<line x1="419.20" y1="407.95" x2="469.42" y2="407.95" stroke="#141420" stroke-width="1.25"/>
<line x1="419.20" y1="416.31" x2="469.42" y2="416.31" stroke="#141420" stroke-width="1.25"/>
<line x1="419.20" y1="424.68" x2="469.42" y2="424.68" stroke="#141420" stroke-width="1.25"/>
<line x1="419.20" y1="433.04" x2="469.42" y2="433.04" stroke="#141420" stroke-width="1.25"/>
<line x1="419.20" y1="441.40" x2="469.42" y2="441.40" stroke="#141420" stroke-width="1.25"/>
<line x1="419.20" y1="449.77" x2="469.42" y2="449.77" stroke="#141420" stroke-width="1.25"/>
<line x1="419.20" y1="131.90" x2="419.20" y2="449.77" stroke="#141420" stroke-width="1.25"/>
<line x1="419.20" y1="5.20" x2="419.20" y2="131.90" stroke="#707070" stroke-width="1"/>
<line x1="427.57" y1="131.90" x2="427.57" y2="449.77" stroke="#141420" stroke-width="1.25"/>
<line x1="427.57" y1="5.20" x2="427.57" y2="131.90" stroke="#707070" stroke-width="1"/>
<line x1="435.94" y1="131.90" x2="435.94" y2="449.77" stroke="#141420" stroke-width="1.25"/>
<line x1="435.94" y1="5.20" x2="435.94" y2="131.90" stroke="#707070" stroke-width="1"/>
<line x1="444.31" y1="131.90" x2="444.31" y2="449.77" stroke="#141420" stroke-width="1.25"/>
<line x1="444.31" y1="5.20" x2="444.31" y2="131.90" stroke="#707070" stroke-width="1"/>
<line x1="452.68" y1="131.90" x2="452.68" y2="449.77" stroke="#141420" stroke-width="1.25"/>
<line x1="452.68" y1="5.20" x2="452.68" y2="131.90" stroke="#707070" stroke-width="1"/>
<line x1="461.05" y1="131.90" x2="461.05" y2="449.77" stroke="#141420" stroke-width="1.25"/>
<line x1="461.05" y1="5.20" x2="461.05" y2="131.90" stroke="#707070" stroke-width="1"/>
<line x1="469.42" y1="131.90" x2="469.42" y2="449.77" stroke="#141420" stroke-width="1.25"/>
<line x1="469.42" y1="5.20" x2="469.42" y2="131.90" stroke="#707070" stroke-width="1"/>
<line x1="419.20" y1="113.60" x2="469.42" y2="113.60" stroke="#707070" stroke-width="0.8"/>
<text x="477.6" y="124.1" font-family="&quot;Liberation Mono&quot;, monospace" font-size="10.3" fill="#505050" stroke="#505050" stroke-width="0.15">SampleName</text>
<line x1="469.42" y1="131.90" x2="544.6" y2="131.90" stroke="#606060" stroke-width="1.6"/>
<line x1="469.42" y1="140.47" x2="544.6" y2="140.47" stroke="#6a6a6a" stroke-width="1.3"/>
<text x="0" y="0" transform="translate(476.42,140.37) scale(1,0.88)" font-family="&quot;Liberation Mono&quot;, monospace" font-size="8.1" fill="#1e1e1e" stroke="#1e1e1e" stroke-width="0.15">Map3k7</text>
<line x1="469.42" y1="148.83" x2="544.6" y2="148.83" stroke="#6a6a6a" stroke-width="1.3"/>
<text x="0" y="0" transform="translate(476.42,148.73) scale(1,0.88)" font-family="&quot;Liberation Mono&quot;, monospace" font-size="8.1" fill="#1e1e1e" stroke="#1e1e1e" stroke-width="0.15">Arf1</text>
<line x1="469.42" y1="157.19" x2="544.6" y2="157.19" stroke="#6a6a6a" stroke-width="1.3"/>
<text x="0" y="0" transform="translate(476.42,157.09) scale(1,0.88)" font-family="&quot;Liberation Mono&quot;, monospace" font-size="8.1" fill="#1e1e1e" stroke="#1e1e1e" stroke-width="0.15">Tab2</text>
<line x1="469.42" y1="165.56" x2="544.6" y2="165.56" stroke="#6a6a6a" stroke-width="1.3"/>
<text x="0" y="0" transform="translate(476.42,165.46) scale(1,0.88)" font-family="&quot;Liberation Mono&quot;, monospace" font-size="8.1" fill="#1e1e1e" stroke="#1e1e1e" stroke-width="0.15">Dnm2</text>
<line x1="469.42" y1="173.93" x2="544.6" y2="173.93" stroke="#6a6a6a" stroke-width="1.3"/>
<text x="0" y="0" transform="translate(476.42,173.83) scale(1,0.88)" font-family="&quot;Liberation Mono&quot;, monospace" font-size="8.1" fill="#1e1e1e" stroke="#1e1e1e" stroke-width="0.15">Ubc</text>
<line x1="469.42" y1="182.29" x2="544.6" y2="182.29" stroke="#6a6a6a" stroke-width="1.3"/>
<text x="0" y="0" transform="translate(476.42,182.19) scale(1,0.88)" font-family="&quot;Liberation Mono&quot;, monospace" font-size="8.1" fill="#1e1e1e" stroke="#1e1e1e" stroke-width="0.15">Map2k6</text>
<line x1="469.42" y1="190.66" x2="544.6" y2="190.66" stroke="#6a6a6a" stroke-width="1.3"/>
<text x="0" y="0" transform="translate(476.42,190.56) scale(1,0.88)" font-family="&quot;Liberation Mono&quot;, monospace" font-size="8.1" fill="#1e1e1e" stroke="#1e1e1e" stroke-width="0.15">Map2k3</text>
<line x1="469.42" y1="199.02" x2="544.6" y2="199.02" stroke="#6a6a6a" stroke-width="1.3"/>
<text x="0" y="0" transform="translate(476.42,198.92) scale(1,0.88)" font-family="&quot;Liberation Mono&quot;, monospace" font-size="8.1" fill="#1e1e1e" stroke="#1e1e1e" stroke-width="0.15">Ikbke</text>
<line x1="469.42" y1="207.38" x2="544.6" y2="207.38" stroke="#6a6a6a" stroke-width="1.3"/>
<text x="0" y="0" transform="translate(476.42,207.28) scale(1,0.88)" font-family="&quot;Liberation Mono&quot;, monospace" font-size="8.1" fill="#1e1e1e" stroke="#1e1e1e" stroke-width="0.15">Tirap</text>
<line x1="469.42" y1="215.75" x2="544.6" y2="215.75" stroke="#6a6a6a" stroke-width="1.3"/>
<text x="0" y="0" transform="translate(476.42,215.65) scale(1,0.88)" font-family="&quot;Liberation Mono&quot;, monospace" font-size="8.1" fill="#1e1e1e" stroke="#1e1e1e" stroke-width="0.15">Mapkapk3</text>
<line x1="469.42" y1="224.12" x2="544.6" y2="224.12" stroke="#6a6a6a" stroke-width="1.3"/>
<text x="0" y="0" transform="translate(476.42,224.02) scale(1,0.88)" font-family="&quot;Liberation Mono&quot;, monospace" font-size="8.1" fill="#1e1e1e" stroke="#1e1e1e" stroke-width="0.15">Chuk</text>
<line x1="469.42" y1="232.48" x2="544.6" y2="232.48" stroke="#6a6a6a" stroke-width="1.3"/>
<text x="0" y="0" transform="translate(476.42,232.38) scale(1,0.88)" font-family="&quot;Liberation Mono&quot;, monospace" font-size="8.1" fill="#1e1e1e" stroke="#1e1e1e" stroke-width="0.15">Ikbkg</text>
<line x1="469.42" y1="240.84" x2="544.6" y2="240.84" stroke="#6a6a6a" stroke-width="1.3"/>
<text x="0" y="0" transform="translate(476.42,240.75) scale(1,0.88)" font-family="&quot;Liberation Mono&quot;, monospace" font-size="8.1" fill="#1e1e1e" stroke="#1e1e1e" stroke-width="0.15">Nfkbia</text>
<line x1="469.42" y1="249.21" x2="544.6" y2="249.21" stroke="#6a6a6a" stroke-width="1.3"/>
<text x="0" y="0" transform="translate(476.42,249.11) scale(1,0.88)" font-family="&quot;Liberation Mono&quot;, monospace" font-size="8.1" fill="#1e1e1e" stroke="#1e1e1e" stroke-width="0.15">Rela</text>
<line x1="469.42" y1="257.57" x2="544.6" y2="257.57" stroke="#6a6a6a" stroke-width="1.3"/>
<text x="0" y="0" transform="translate(476.42,257.48) scale(1,0.88)" font-family="&quot;Liberation Mono&quot;, monospace" font-size="8.1" fill="#1e1e1e" stroke="#1e1e1e" stroke-width="0.15">Map2k7</text>
<line x1="469.42" y1="265.94" x2="544.6" y2="265.94" stroke="#6a6a6a" stroke-width="1.3"/>
<text x="0" y="0" transform="translate(476.42,265.84) scale(1,0.88)" font-family="&quot;Liberation Mono&quot;, monospace" font-size="8.1" fill="#1e1e1e" stroke="#1e1e1e" stroke-width="0.15">Fadd</text>
<line x1="469.42" y1="274.31" x2="544.6" y2="274.31" stroke="#6a6a6a" stroke-width="1.3"/>
<text x="0" y="0" transform="translate(476.42,274.21) scale(1,0.88)" font-family="&quot;Liberation Mono&quot;, monospace" font-size="8.1" fill="#1e1e1e" stroke="#1e1e1e" stroke-width="0.15">Ripk1</text>
<line x1="469.42" y1="282.67" x2="544.6" y2="282.67" stroke="#6a6a6a" stroke-width="1.3"/>
<text x="0" y="0" transform="translate(476.42,282.57) scale(1,0.88)" font-family="&quot;Liberation Mono&quot;, monospace" font-size="8.1" fill="#1e1e1e" stroke="#1e1e1e" stroke-width="0.15">Tab3</text>
<line x1="469.42" y1="291.04" x2="544.6" y2="291.04" stroke="#6a6a6a" stroke-width="1.3"/>
<text x="0" y="0" transform="translate(476.42,290.94) scale(1,0.88)" font-family="&quot;Liberation Mono&quot;, monospace" font-size="8.1" fill="#1e1e1e" stroke="#1e1e1e" stroke-width="0.15">Ikbkb</text>
<line x1="469.42" y1="299.40" x2="544.6" y2="299.40" stroke="#6a6a6a" stroke-width="1.3"/>
<text x="0" y="0" transform="translate(476.42,299.30) scale(1,0.88)" font-family="&quot;Liberation Mono&quot;, monospace" font-size="8.1" fill="#1e1e1e" stroke="#1e1e1e" stroke-width="0.15">Dnm3</text>
<line x1="469.42" y1="307.76" x2="544.6" y2="307.76" stroke="#6a6a6a" stroke-width="1.3"/>
<text x="0" y="0" transform="translate(476.42,307.67) scale(1,0.88)" font-family="&quot;Liberation Mono&quot;, monospace" font-size="8.1" fill="#1e1e1e" stroke="#1e1e1e" stroke-width="0.15">Tab1</text>
<line x1="469.42" y1="316.13" x2="544.6" y2="316.13" stroke="#6a6a6a" stroke-width="1.3"/>
<text x="0" y="0" transform="translate(476.42,316.03) scale(1,0.88)" font-family="&quot;Liberation Mono&quot;, monospace" font-size="8.1" fill="#1e1e1e" stroke="#1e1e1e" stroke-width="0.15">Mapkapk2</text>
<line x1="469.42" y1="324.50" x2="544.6" y2="324.50" stroke="#6a6a6a" stroke-width="1.3"/>
<text x="0" y="0" transform="translate(476.42,324.40) scale(1,0.88)" font-family="&quot;Liberation Mono&quot;, monospace" font-size="8.1" fill="#1e1e1e" stroke="#1e1e1e" stroke-width="0.15">Fbxw11</text>
<line x1="469.42" y1="332.86" x2="544.6" y2="332.86" stroke="#6a6a6a" stroke-width="1.3"/>
<text x="0" y="0" transform="translate(476.42,332.76) scale(1,0.88)" font-family="&quot;Liberation Mono&quot;, monospace" font-size="8.1" fill="#1e1e1e" stroke="#1e1e1e" stroke-width="0.15">Mapk7</text>
<line x1="469.42" y1="341.22" x2="544.6" y2="341.22" stroke="#6a6a6a" stroke-width="1.3"/>
<text x="0" y="0" transform="translate(476.42,341.12) scale(1,0.88)" font-family="&quot;Liberation Mono&quot;, monospace" font-size="8.1" fill="#1e1e1e" stroke="#1e1e1e" stroke-width="0.15">Nod1</text>
<line x1="469.42" y1="349.59" x2="544.6" y2="349.59" stroke="#6a6a6a" stroke-width="1.3"/>
<text x="0" y="0" transform="translate(476.42,349.49) scale(1,0.88)" font-family="&quot;Liberation Mono&quot;, monospace" font-size="8.1" fill="#1e1e1e" stroke="#1e1e1e" stroke-width="0.15">Nfkb2</text>
<line x1="469.42" y1="357.95" x2="544.6" y2="357.95" stroke="#6a6a6a" stroke-width="1.3"/>
<text x="0" y="0" transform="translate(476.42,357.86) scale(1,0.88)" font-family="&quot;Liberation Mono&quot;, monospace" font-size="8.1" fill="#1e1e1e" stroke="#1e1e1e" stroke-width="0.15">Traf2</text>
<line x1="469.42" y1="366.32" x2="544.6" y2="366.32" stroke="#6a6a6a" stroke-width="1.3"/>
<text x="0" y="0" transform="translate(476.42,366.22) scale(1,0.88)" font-family="&quot;Liberation Mono&quot;, monospace" font-size="8.1" fill="#1e1e1e" stroke="#1e1e1e" stroke-width="0.15">Ly96</text>
<line x1="469.42" y1="374.69" x2="544.6" y2="374.69" stroke="#6a6a6a" stroke-width="1.3"/>
<text x="0" y="0" transform="translate(476.42,374.59) scale(1,0.88)" font-family="&quot;Liberation Mono&quot;, monospace" font-size="8.1" fill="#1e1e1e" stroke="#1e1e1e" stroke-width="0.15">Birc2</text>
<line x1="469.42" y1="383.05" x2="544.6" y2="383.05" stroke="#6a6a6a" stroke-width="1.3"/>
<text x="0" y="0" transform="translate(476.42,382.95) scale(1,0.88)" font-family="&quot;Liberation Mono&quot;, monospace" font-size="8.1" fill="#1e1e1e" stroke="#1e1e1e" stroke-width="0.15">Map3k8</text>
<line x1="469.42" y1="391.42" x2="544.6" y2="391.42" stroke="#6a6a6a" stroke-width="1.3"/>
<text x="0" y="0" transform="translate(476.42,391.32) scale(1,0.88)" font-family="&quot;Liberation Mono&quot;, monospace" font-size="8.1" fill="#1e1e1e" stroke="#1e1e1e" stroke-width="0.15">Irf3</text>
<line x1="469.42" y1="399.78" x2="544.6" y2="399.78" stroke="#6a6a6a" stroke-width="1.3"/>
<text x="0" y="0" transform="translate(476.42,399.68) scale(1,0.88)" font-family="&quot;Liberation Mono&quot;, monospace" font-size="8.1" fill="#1e1e1e" stroke="#1e1e1e" stroke-width="0.15">Nkiras2</text>
<line x1="469.42" y1="408.15" x2="544.6" y2="408.15" stroke="#6a6a6a" stroke-width="1.3"/>
<text x="0" y="0" transform="translate(476.42,408.05) scale(1,0.88)" font-family="&quot;Liberation Mono&quot;, monospace" font-size="8.1" fill="#1e1e1e" stroke="#1e1e1e" stroke-width="0.15">Peli2</text>
<line x1="469.42" y1="416.51" x2="544.6" y2="416.51" stroke="#6a6a6a" stroke-width="1.3"/>
<text x="0" y="0" transform="translate(476.42,416.41) scale(1,0.88)" font-family="&quot;Liberation Mono&quot;, monospace" font-size="8.1" fill="#1e1e1e" stroke="#1e1e1e" stroke-width="0.15">Traf6</text>
<line x1="469.42" y1="424.88" x2="544.6" y2="424.88" stroke="#6a6a6a" stroke-width="1.3"/>
<text x="0" y="0" transform="translate(476.42,424.78) scale(1,0.88)" font-family="&quot;Liberation Mono&quot;, monospace" font-size="8.1" fill="#1e1e1e" stroke="#1e1e1e" stroke-width="0.15">Ppp2r1b</text>
<line x1="469.42" y1="433.24" x2="544.6" y2="433.24" stroke="#6a6a6a" stroke-width="1.3"/>
<text x="0" y="0" transform="translate(476.42,433.14) scale(1,0.88)" font-family="&quot;Liberation Mono&quot;, monospace" font-size="8.1" fill="#1e1e1e" stroke="#1e1e1e" stroke-width="0.15">Rps6ka5</text>
<line x1="469.42" y1="441.60" x2="544.6" y2="441.60" stroke="#6a6a6a" stroke-width="1.3"/>
<text x="0" y="0" transform="translate(476.42,441.50) scale(1,0.88)" font-family="&quot;Liberation Mono&quot;, monospace" font-size="8.1" fill="#1e1e1e" stroke="#1e1e1e" stroke-width="0.15">S100b</text>
<line x1="469.42" y1="449.97" x2="544.6" y2="449.97" stroke="#6a6a6a" stroke-width="1.3"/>
<text x="0" y="0" transform="translate(476.42,449.87) scale(1,0.88)" font-family="&quot;Liberation Mono&quot;, monospace" font-size="8.1" fill="#1e1e1e" stroke="#1e1e1e" stroke-width="0.15">Rps6ka1</text>
<rect x="471.3" y="19" width="1.5" height="3" fill="#b0b0b0"/>
<rect x="471.3" y="61" width="1.5" height="3" fill="#b0b0b0"/>
<text x="17.2" y="523.0" font-size="22" font-weight="bold" fill="#000" stroke="#000" stroke-width="0.35">D</text>
<text x="139.6" y="524.5" font-size="16" font-weight="bold" fill="#111" stroke="#111" stroke-width="0.3" textLength="149" lengthAdjust="spacingAndGlyphs">NPC CTX vs WT CTX</text>
<rect x="26.2" y="532" width="363.3" height="361.8" fill="#f1f1f1"/>
<text x="153.8" y="545.8" font-size="13.2" font-weight="bold" fill="#111" stroke="#111" stroke-width="0.3" textLength="105.3" lengthAdjust="spacingAndGlyphs">Enrichment plot:</text>
<text x="28.4" y="562.7" font-size="13.8" font-weight="bold" fill="#111" stroke="#111" stroke-width="0.3" textLength="359.5" lengthAdjust="spacingAndGlyphs">REACTOME_TOLL_LIKE_RECEPTOR_4_TLR4_CASCADE</text>
<rect x="76.4" y="570.5" width="307.1" height="274.5" fill="#ffffff"/>
<line x1="76.4" y1="573.5" x2="383.5" y2="573.5" stroke="#e9e9e9" stroke-width="0.8"/>
<line x1="76.4" y1="590.6" x2="383.5" y2="590.6" stroke="#e9e9e9" stroke-width="0.8"/>
<line x1="76.4" y1="607.8" x2="383.5" y2="607.8" stroke="#e9e9e9" stroke-width="0.8"/>
<line x1="76.4" y1="624.9" x2="383.5" y2="624.9" stroke="#e9e9e9" stroke-width="0.8"/>
<line x1="76.4" y1="642.1" x2="383.5" y2="642.1" stroke="#e9e9e9" stroke-width="0.8"/>
<line x1="76.4" y1="659.2" x2="383.5" y2="659.2" stroke="#e9e9e9" stroke-width="0.8"/>
<line x1="76.4" y1="693.5" x2="383.5" y2="693.5" stroke="#e9e9e9" stroke-width="0.8"/>
<line x1="142.8" y1="570.5" x2="142.8" y2="703.2" stroke="#e9e9e9" stroke-width="0.8"/>
<line x1="142.8" y1="756.6" x2="142.8" y2="845.0" stroke="#e9e9e9" stroke-width="0.8"/>
<line x1="209.1" y1="570.5" x2="209.1" y2="703.2" stroke="#e9e9e9" stroke-width="0.8"/>
<line x1="209.1" y1="756.6" x2="209.1" y2="845.0" stroke="#e9e9e9" stroke-width="0.8"/>
<line x1="275.5" y1="570.5" x2="275.5" y2="703.2" stroke="#e9e9e9" stroke-width="0.8"/>
<line x1="275.5" y1="756.6" x2="275.5" y2="845.0" stroke="#e9e9e9" stroke-width="0.8"/>
<line x1="341.8" y1="570.5" x2="341.8" y2="703.2" stroke="#e9e9e9" stroke-width="0.8"/>
<line x1="341.8" y1="756.6" x2="341.8" y2="845.0" stroke="#e9e9e9" stroke-width="0.8"/>
<line x1="76.4" y1="784.6" x2="383.5" y2="784.6" stroke="#e9e9e9" stroke-width="0.8"/>
<line x1="76.4" y1="831.8" x2="383.5" y2="831.8" stroke="#e9e9e9" stroke-width="0.8"/>
<line x1="76.4" y1="676.4" x2="383.5" y2="676.4" stroke="#a0a0a0" stroke-width="1"/>
<rect x="76.4" y="570.5" width="307.1" height="274.5" fill="none" stroke="#c8c8c8" stroke-width="0.8"/>
<line x1="76.4" y1="703.2" x2="383.5" y2="703.2" stroke="#bdbdbd" stroke-width="0.8"/>
<line x1="76.4" y1="757.1" x2="383.5" y2="757.1" stroke="#bdbdbd" stroke-width="0.8"/>
<line x1="76.4" y1="570.5" x2="76.4" y2="845.0" stroke="#9a9a9a" stroke-width="1.2"/>
<polyline points="76.4,676.1 78.1,679.3 79.0,677.2 78.2,674.8 79.6,672.7 78.8,670.3 79.7,668.2 80.5,670.5 82.2,672.3 84.3,674.0 85.5,676.4 86.2,674.1 85.2,671.7 86.5,669.5 85.5,667.1 86.8,664.9 85.8,662.5 87.1,660.3 86.1,657.9 87.4,655.7 86.4,653.3 87.1,651.0 89.5,653.5 90.7,655.9 92.8,657.6 92.8,655.0 94.5,652.8 94.5,650.2 94.8,647.2 96.1,644.5 96.9,642.2 96.0,639.7 97.4,637.4 96.5,634.9 97.8,632.7 97.0,630.2 98.3,627.9 97.5,625.4 98.8,623.1 98.5,620.7 101.0,624.0 103.1,625.7 104.3,628.1 105.2,625.9 104.6,623.5 106.0,621.4 105.9,619.1 108.4,619.1 110.0,615.8 109.7,613.4 111.0,611.2 110.1,608.8 111.4,606.6 110.5,604.2 111.8,601.9 110.9,599.5 112.2,597.3 111.3,594.9 112.6,592.7 111.7,590.3 112.5,588.0 118.2,594.5 123.1,600.3 128.0,605.2 129.6,601.1 135.4,610.1 136.2,607.9 135.4,605.5 136.7,603.3 135.9,600.9 137.3,598.8 136.5,596.4 137.8,594.2 137.0,591.8 137.8,589.6 139.1,591.6 141.1,592.9 141.4,590.5 143.3,588.8 143.6,586.4 145.7,588.5 146.8,591.3 150.1,592.1 153.4,594.5 154.5,591.9 153.9,589.0 155.0,586.4 156.2,584.4 155.8,582.0 157.5,580.1 157.1,577.7 158.3,575.7 159.8,578.3 162.5,579.7 164.0,582.3 165.5,584.6 167.9,586.9 170.9,588.2 173.1,589.1 174.2,591.4 176.4,592.3 178.7,591.9 180.9,593.2 183.2,592.8 185.8,593.8 187.4,596.2 190.0,597.2 192.2,598.0 193.5,600.3 196.0,600.6 197.3,602.9 199.5,603.7 202.3,603.6 205.0,604.5 207.4,603.6 209.1,601.8 212.0,602.7 214.5,604.5 216.5,606.3 219.4,606.8 221.4,608.6 223.5,609.9 226.1,609.5 228.2,610.8 230.0,612.2 232.5,612.2 234.1,614.1 236.4,614.6 240.0,615.5 242.8,615.4 245.4,616.9 248.2,616.8 250.6,618.1 251.9,620.6 254.7,621.5 256.4,623.6 257.9,625.6 260.4,626.4 261.5,628.8 264.0,629.6 265.1,632.0 267.3,633.2 269.2,634.4 270.0,636.7 272.4,637.5 273.1,639.8 275.5,640.6 276.3,642.9 278.2,644.1 280.2,645.4 281.1,647.8 283.5,648.6 284.4,651.0 286.4,652.3 288.6,653.5 290.0,655.5 292.2,657.2 294.9,658.0 296.9,659.3 298.2,661.3 299.4,663.7 301.5,665.4 301.8,663.2 303.1,661.3 306.4,660.5 309.6,659.3 312.1,660.5 313.0,662.7 315.3,664.0 316.2,666.2 317.4,668.5 319.9,669.6 321.1,671.9 322.7,674.7 325.2,676.8 327.6,679.3 327.9,676.7 329.3,674.4 331.7,675.2 333.4,674.4 335.8,677.6 337.1,679.6 339.1,680.9 341.1,682.2 342.4,684.2 344.0,681.7 345.6,684.2 347.3,683.4 348.5,685.8 350.6,687.5 353.0,689.2 354.6,691.6 356.2,694.4 358.7,696.5 358.5,694.0 359.9,691.7 359.2,689.0 360.6,686.7 360.4,684.2 362.0,687.5 362.0,684.9 363.6,682.7 363.6,680.1 365.3,682.6 365.0,679.9 366.2,677.3 365.4,674.5 366.1,671.9 367.7,673.6 370.2,675.2" fill="none" stroke="#12f412" stroke-width="3.4" stroke-linejoin="round" stroke-linecap="round"/>
<rect x="78.6" y="704.0" width="1.1" height="42.8" fill="#888"/>
<rect x="85.2" y="704.0" width="1.7" height="42.8" fill="#555"/>
<rect x="92.2" y="704.0" width="3.9" height="42.8" fill="#999"/>
<rect x="96.1" y="704.0" width="2.2" height="42.8" fill="#333"/>
<rect x="104.8" y="704.0" width="1.9" height="42.8" fill="#888"/>
<rect x="109.9" y="704.0" width="1.3" height="42.8" fill="#666"/>
<rect x="111.2" y="704.0" width="1.9" height="42.8" fill="#333"/>
<rect x="127.4" y="704.0" width="1.1" height="42.8" fill="#888"/>
<rect x="135.4" y="704.0" width="2.9" height="42.8" fill="#444"/>
<rect x="141.9" y="704.0" width="1.8" height="42.8" fill="#888"/>
<rect x="149.2" y="704.0" width="1.4" height="42.8" fill="#777"/>
<rect x="153.6" y="704.0" width="1.6" height="42.8" fill="#888"/>
<rect x="155.2" y="704.0" width="3.5" height="42.8" fill="#333"/>
<rect x="167.2" y="704.0" width="1.4" height="42.8" fill="#888"/>
<rect x="176.2" y="704.0" width="1.4" height="42.8" fill="#555"/>
<rect x="179.1" y="704.0" width="1.4" height="42.8" fill="#777"/>
<rect x="182.3" y="704.0" width="1.4" height="42.8" fill="#888"/>
<rect x="188.1" y="704.0" width="1.9" height="42.8" fill="#999"/>
<rect x="190.4" y="704.0" width="1.5" height="42.8" fill="#666"/>
<rect x="198.0" y="704.0" width="2.9" height="42.8" fill="#999"/>
<rect x="203.8" y="704.0" width="2.2" height="42.8" fill="#555"/>
<rect x="206.7" y="704.0" width="1.5" height="42.8" fill="#777"/>
<rect x="212.5" y="704.0" width="3.0" height="42.8" fill="#444"/>
<rect x="222.0" y="704.0" width="1.5" height="42.8" fill="#666"/>
<rect x="224.9" y="704.0" width="2.2" height="42.8" fill="#666"/>
<rect x="228.5" y="704.0" width="1.5" height="42.8" fill="#777"/>
<rect x="230.2" y="704.0" width="2.1" height="42.8" fill="#999"/>
<rect x="234.5" y="704.0" width="1.4" height="42.8" fill="#777"/>
<rect x="238.8" y="704.0" width="2.2" height="42.8" fill="#333"/>
<rect x="241.0" y="704.0" width="2.2" height="42.8" fill="#555"/>
<rect x="245.4" y="704.0" width="2.9" height="42.8" fill="#666"/>
<rect x="249.0" y="704.0" width="2.9" height="42.8" fill="#777"/>
<rect x="253.4" y="704.0" width="2.9" height="42.8" fill="#555"/>
<rect x="257.0" y="704.0" width="3.0" height="42.8" fill="#bbb"/>
<rect x="260.6" y="704.0" width="2.2" height="42.8" fill="#777"/>
<rect x="263.5" y="704.0" width="3.7" height="42.8" fill="#888"/>
<rect x="267.9" y="704.0" width="2.2" height="42.8" fill="#666"/>
<rect x="273.7" y="704.0" width="2.5" height="42.8" fill="#222"/>
<rect x="283.2" y="704.0" width="1.4" height="42.8" fill="#333"/>
<rect x="286.1" y="704.0" width="2.9" height="42.8" fill="#777"/>
<rect x="290.5" y="704.0" width="3.6" height="42.8" fill="#555"/>
<rect x="300.8" y="704.0" width="2.9" height="42.8" fill="#222"/>
<rect x="303.7" y="704.0" width="2.2" height="42.8" fill="#666"/>
<rect x="305.9" y="704.0" width="2.9" height="42.8" fill="#444"/>
<rect x="308.8" y="704.0" width="2.9" height="42.8" fill="#777"/>
<rect x="327.0" y="704.0" width="2.9" height="42.8" fill="#777"/>
<rect x="333.1" y="704.0" width="1.2" height="42.8" fill="#888"/>
<rect x="341.5" y="704.0" width="1.5" height="42.8" fill="#888"/>
<rect x="345.2" y="704.0" width="1.4" height="42.8" fill="#777"/>
<rect x="359.0" y="704.0" width="1.5" height="42.8" fill="#888"/>
<rect x="361.9" y="704.0" width="1.5" height="42.8" fill="#777"/>
<rect x="365.3" y="704.0" width="1.3" height="42.8" fill="#777"/>
<defs><linearGradient id="g2" x1="0" x2="1" y1="0" y2="0"><stop offset="0.0000" stop-color="#ff2c2c"/><stop offset="0.1488" stop-color="#ff3c40"/><stop offset="0.2613" stop-color="#ff4a55"/><stop offset="0.2750" stop-color="#ff6070"/><stop offset="0.4149" stop-color="#ff6a7c"/><stop offset="0.4285" stop-color="#ff7a88"/><stop offset="0.5241" stop-color="#ff8090"/><stop offset="0.5343" stop-color="#f8b0d8"/><stop offset="0.6503" stop-color="#f8b4da"/><stop offset="0.6571" stop-color="#cccafa"/><stop offset="0.8072" stop-color="#c4c2f8"/><stop offset="0.8141" stop-color="#7c7cf8"/><stop offset="0.8618" stop-color="#7474f4"/><stop offset="0.8686" stop-color="#5444e2"/><stop offset="0.9710" stop-color="#5040e0"/><stop offset="0.9778" stop-color="#3410c4"/><stop offset="1.0000" stop-color="#3010c0"/></linearGradient></defs><rect x="76.4" y="746.8" width="293.1" height="9.8" fill="url(#g2)"/>
<polygon points="76.4,782.5 77,786.5 77.8,790.5 80,792.3 82.2,793.4 93.8,796.3 115.6,799.2 137.5,801.1 152,802.1 171.5,803.0 200,803.8 240,805.3 269.3,808.2 269.3,808.2 76.4,808.2" fill="#c0c0c0"/>
<polygon points="269.3,808.2 309,811.8 352.7,815.5 365.5,822.7 368,830 369,839 369.5,839 369.5,808.2" fill="#c0c0c0"/>
<line x1="269.3" y1="756.6" x2="269.3" y2="845.0" stroke="#b0b0b0" stroke-width="0.8" stroke-dasharray="2,2"/>
<text x="77.3" y="765.0" font-size="7.5" font-weight="bold" fill="#ff4a4a" textLength="113" lengthAdjust="spacingAndGlyphs">'CTX_NPC' (positively correlated)</text>
<text x="229.1" y="842" font-size="7.5" font-weight="bold" fill="#4a4af0" textLength="121.8" lengthAdjust="spacingAndGlyphs">'CTX_CTRL' (negatively correlated)</text>
<text x="237.5" y="803.8" font-size="7" fill="#222" textLength="60.7" lengthAdjust="spacingAndGlyphs">Zero cross at 14535</text>
<text x="70.8" y="576.7" font-size="8.8" fill="#8a8a8a" text-anchor="end" transform="translate(70.8,0) scale(1.06,1) translate(-70.8,0)">0.30</text>
<line x1="73.9" y1="573.5" x2="76.4" y2="573.5" stroke="#999" stroke-width="0.8"/>
<text x="70.8" y="593.9" font-size="8.8" fill="#8a8a8a" text-anchor="end" transform="translate(70.8,0) scale(1.06,1) translate(-70.8,0)">0.25</text>
<line x1="73.9" y1="590.6" x2="76.4" y2="590.6" stroke="#999" stroke-width="0.8"/>
<text x="70.8" y="611.0" font-size="8.8" fill="#8a8a8a" text-anchor="end" transform="translate(70.8,0) scale(1.06,1) translate(-70.8,0)">0.20</text>
<line x1="73.9" y1="607.8" x2="76.4" y2="607.8" stroke="#999" stroke-width="0.8"/>
<text x="70.8" y="628.1" font-size="8.8" fill="#8a8a8a" text-anchor="end" transform="translate(70.8,0) scale(1.06,1) translate(-70.8,0)">0.15</text>
<line x1="73.9" y1="624.9" x2="76.4" y2="624.9" stroke="#999" stroke-width="0.8"/>
<text x="70.8" y="645.3" font-size="8.8" fill="#8a8a8a" text-anchor="end" transform="translate(70.8,0) scale(1.06,1) translate(-70.8,0)">0.10</text>
<line x1="73.9" y1="642.1" x2="76.4" y2="642.1" stroke="#999" stroke-width="0.8"/>
<text x="70.8" y="662.5" font-size="8.8" fill="#8a8a8a" text-anchor="end" transform="translate(70.8,0) scale(1.06,1) translate(-70.8,0)">0.05</text>
<line x1="73.9" y1="659.2" x2="76.4" y2="659.2" stroke="#999" stroke-width="0.8"/>
<text x="70.8" y="679.6" font-size="8.8" fill="#8a8a8a" text-anchor="end" transform="translate(70.8,0) scale(1.06,1) translate(-70.8,0)">0.00</text>
<line x1="73.9" y1="676.4" x2="76.4" y2="676.4" stroke="#999" stroke-width="0.8"/>
<text x="70.8" y="696.8" font-size="8.8" fill="#8a8a8a" text-anchor="end" transform="translate(70.8,0) scale(1.06,1) translate(-70.8,0)">-0.05</text>
<line x1="73.9" y1="693.5" x2="76.4" y2="693.5" stroke="#999" stroke-width="0.8"/>
<text x="71" y="763.9" font-size="7.8" fill="#333" text-anchor="end" transform="translate(71,0) scale(1.12,1) translate(-71,0)">4</text>
<line x1="73.9" y1="761.0" x2="76.4" y2="761.0" stroke="#999" stroke-width="0.8"/>
<text x="71" y="787.5" font-size="7.8" fill="#333" text-anchor="end" transform="translate(71,0) scale(1.12,1) translate(-71,0)">2</text>
<line x1="73.9" y1="784.6" x2="76.4" y2="784.6" stroke="#999" stroke-width="0.8"/>
<text x="71" y="811.1" font-size="7.8" fill="#333" text-anchor="end" transform="translate(71,0) scale(1.12,1) translate(-71,0)">0</text>
<line x1="73.9" y1="808.2" x2="76.4" y2="808.2" stroke="#999" stroke-width="0.8"/>
<text x="71" y="834.7" font-size="7.8" fill="#333" text-anchor="end" transform="translate(71,0) scale(1.12,1) translate(-71,0)">-2</text>
<line x1="73.9" y1="831.8" x2="76.4" y2="831.8" stroke="#999" stroke-width="0.8"/>
<text x="75.6" y="857.2" font-size="7.9" fill="#333" text-anchor="middle">0</text>
<line x1="76.4" y1="845.0" x2="76.4" y2="847.5" stroke="#999" stroke-width="0.8"/>
<text x="141.9" y="857.2" font-size="7.9" fill="#333" text-anchor="middle">5,000</text>
<line x1="142.8" y1="845.0" x2="142.8" y2="847.5" stroke="#999" stroke-width="0.8"/>
<text x="208.3" y="857.2" font-size="7.9" fill="#333" text-anchor="middle">10,000</text>
<line x1="209.1" y1="845.0" x2="209.1" y2="847.5" stroke="#999" stroke-width="0.8"/>
<text x="274.7" y="857.2" font-size="7.9" fill="#333" text-anchor="middle">15,000</text>
<line x1="275.5" y1="845.0" x2="275.5" y2="847.5" stroke="#999" stroke-width="0.8"/>
<text x="341.0" y="857.2" font-size="7.9" fill="#333" text-anchor="middle">20,000</text>
<line x1="341.8" y1="845.0" x2="341.8" y2="847.5" stroke="#999" stroke-width="0.8"/>
<text x="180.5" y="869.3" font-size="8.2" fill="#333" textLength="98.8" lengthAdjust="spacingAndGlyphs">Rank in Ordered Dataset</text>
<text transform="translate(45.1,692.7) rotate(-90)" font-size="9.7" fill="#2a2a2a" stroke="#2a2a2a" stroke-width="0.2" textLength="112.7" lengthAdjust="spacingAndGlyphs">Enrichment score (ES)</text>
<text transform="translate(52.5,863) rotate(-90)" font-size="8" fill="#2a2a2a" stroke="#2a2a2a" stroke-width="0.2" textLength="134.5" lengthAdjust="spacingAndGlyphs">Ranked list metric (Signal2Noise)</text>
<rect x="255.5" y="571" width="85.5" height="45.5" fill="#ffffff"/>
<text x="257.2" y="585.5" font-size="13.2" font-weight="bold" fill="#111" stroke="#111" stroke-width="0.3">ES: 0.291</text>
<text x="257.2" y="599.2" font-size="13.2" font-weight="bold" fill="#111" stroke="#111" stroke-width="0.3">NES: 1.246</text>
<text x="257.2" y="613.2" font-size="13.2" font-weight="bold" fill="#111" stroke="#111" stroke-width="0.3">FDR-q: 0.280</text>
<rect x="82.5" y="877.5" width="250.2" height="16.2" fill="#ffffff" stroke="#505050" stroke-width="1.3"/>
<line x1="85" y1="885.6" x2="96" y2="885.6" stroke="#00ee00" stroke-width="2.2"/>
<text x="98.5" y="888.8" font-size="8.2" fill="#333" textLength="72" lengthAdjust="spacingAndGlyphs">Enrichment profile</text>
<line x1="176.5" y1="885.6" x2="187.5" y2="885.6" stroke="#555" stroke-width="1"/>
<text x="189" y="888.8" font-size="8.2" fill="#333" textLength="15.8" lengthAdjust="spacingAndGlyphs">Hits</text>
<line x1="225.5" y1="885.6" x2="236.4" y2="885.6" stroke="#d8d8d8" stroke-width="1.2"/>
<line x1="208" y1="880.7" x2="220" y2="880.7" stroke="#eeeeee" stroke-width="1"/>
<text x="240.5" y="888.8" font-size="8.2" fill="#333" textLength="88.6" lengthAdjust="spacingAndGlyphs">Ranking metric scores</text>
<rect x="412.40" y="485.60" width="8.92" height="90.00" fill="#c4c4c4"/>
<rect x="421.32" y="485.60" width="8.92" height="90.00" fill="#c4c4c4"/>
<rect x="430.24" y="485.60" width="8.92" height="90.00" fill="#c4c4c4"/>
<rect x="439.16" y="485.60" width="8.92" height="90.00" fill="#ffc20e"/>
<rect x="448.08" y="485.60" width="8.92" height="90.00" fill="#ffc20e"/>
<rect x="457.00" y="485.60" width="8.92" height="90.00" fill="#ffc20e"/>
<text x="0" y="0" transform="translate(420.92,574.60) rotate(-90) scale(1,0.85)" font-family="&quot;Liberation Mono&quot;, monospace" font-size="8.3" fill="#262626" stroke="#262626" stroke-width="0.25">cortex_npc_1</text>
<text x="0" y="0" transform="translate(429.84,574.60) rotate(-90) scale(1,0.85)" font-family="&quot;Liberation Mono&quot;, monospace" font-size="8.3" fill="#262626" stroke="#262626" stroke-width="0.25">cortex_npc_2</text>
<text x="0" y="0" transform="translate(438.76,574.60) rotate(-90) scale(1,0.85)" font-family="&quot;Liberation Mono&quot;, monospace" font-size="8.3" fill="#262626" stroke="#262626" stroke-width="0.25">cortex_npc_3</text>
<text x="0" y="0" transform="translate(447.68,574.60) rotate(-90) scale(1,0.85)" font-family="&quot;Liberation Mono&quot;, monospace" font-size="8.3" fill="#262626" stroke="#262626" stroke-width="0.25">cortex_control_1</text>
<text x="0" y="0" transform="translate(456.60,574.60) rotate(-90) scale(1,0.85)" font-family="&quot;Liberation Mono&quot;, monospace" font-size="8.3" fill="#262626" stroke="#262626" stroke-width="0.25">cortex_control_2</text>
<text x="0" y="0" transform="translate(465.52,574.60) rotate(-90) scale(1,0.85)" font-family="&quot;Liberation Mono&quot;, monospace" font-size="8.3" fill="#262626" stroke="#262626" stroke-width="0.25">cortex_control_3</text>
<rect x="412.40" y="575.60" width="53.52" height="18.60" fill="#ffffff"/>
<rect x="412.40" y="594.20" width="8.92" height="8.88" fill="#8888ff"/>
<rect x="421.32" y="594.20" width="8.92" height="8.88" fill="#ff0000"/>
<rect x="430.24" y="594.20" width="8.92" height="8.88" fill="#ff5050"/>
<rect x="439.16" y="594.20" width="8.92" height="8.88" fill="#2700d1"/>
<rect x="448.08" y="594.20" width="8.92" height="8.88" fill="#2700d1"/>
<rect x="457.00" y="594.20" width="8.92" height="8.88" fill="#4500ad"/>
<rect x="412.40" y="603.08" width="8.92" height="8.88" fill="#ff8989"/>
<rect x="421.32" y="603.08" width="8.92" height="8.88" fill="#ff0000"/>
<rect x="430.24" y="603.08" width="8.92" height="8.88" fill="#8888ff"/>
<rect x="439.16" y="603.08" width="8.92" height="8.88" fill="#2700d1"/>
<rect x="448.08" y="603.08" width="8.92" height="8.88" fill="#4500ad"/>
<rect x="457.00" y="603.08" width="8.92" height="8.88" fill="#4500ad"/>
<rect x="412.40" y="611.95" width="8.92" height="8.88" fill="#6b58ef"/>
<rect x="421.32" y="611.95" width="8.92" height="8.88" fill="#ff0000"/>
<rect x="430.24" y="611.95" width="8.92" height="8.88" fill="#ff0000"/>
<rect x="439.16" y="611.95" width="8.92" height="8.88" fill="#4500ad"/>
<rect x="448.08" y="611.95" width="8.92" height="8.88" fill="#8888ff"/>
<rect x="457.00" y="611.95" width="8.92" height="8.88" fill="#4500ad"/>
<rect x="412.40" y="620.83" width="8.92" height="8.88" fill="#2700d1"/>
<rect x="421.32" y="620.83" width="8.92" height="8.88" fill="#ff0000"/>
<rect x="430.24" y="620.83" width="8.92" height="8.88" fill="#ff8989"/>
<rect x="439.16" y="620.83" width="8.92" height="8.88" fill="#4500ad"/>
<rect x="448.08" y="620.83" width="8.92" height="8.88" fill="#6b58ef"/>
<rect x="457.00" y="620.83" width="8.92" height="8.88" fill="#4500ad"/>
<rect x="412.40" y="629.70" width="8.92" height="8.88" fill="#6b58ef"/>
<rect x="421.32" y="629.70" width="8.92" height="8.88" fill="#ff0000"/>
<rect x="430.24" y="629.70" width="8.92" height="8.88" fill="#ff8989"/>
<rect x="439.16" y="629.70" width="8.92" height="8.88" fill="#8888ff"/>
<rect x="448.08" y="629.70" width="8.92" height="8.88" fill="#4500ad"/>
<rect x="457.00" y="629.70" width="8.92" height="8.88" fill="#4500ad"/>
<rect x="412.40" y="638.58" width="8.92" height="8.88" fill="#ff8989"/>
<rect x="421.32" y="638.58" width="8.92" height="8.88" fill="#ffc0e5"/>
<rect x="430.24" y="638.58" width="8.92" height="8.88" fill="#ff0000"/>
<rect x="439.16" y="638.58" width="8.92" height="8.88" fill="#8888ff"/>
<rect x="448.08" y="638.58" width="8.92" height="8.88" fill="#4500ad"/>
<rect x="457.00" y="638.58" width="8.92" height="8.88" fill="#d0cdff"/>
<rect x="412.40" y="647.46" width="8.92" height="8.88" fill="#ff0000"/>
<rect x="421.32" y="647.46" width="8.92" height="8.88" fill="#d0cdff"/>
<rect x="430.24" y="647.46" width="8.92" height="8.88" fill="#ff0000"/>
<rect x="439.16" y="647.46" width="8.92" height="8.88" fill="#ff8989"/>
<rect x="448.08" y="647.46" width="8.92" height="8.88" fill="#4500ad"/>
<rect x="457.00" y="647.46" width="8.92" height="8.88" fill="#4500ad"/>
<rect x="412.40" y="656.33" width="8.92" height="8.88" fill="#8888ff"/>
<rect x="421.32" y="656.33" width="8.92" height="8.88" fill="#ff0000"/>
<rect x="430.24" y="656.33" width="8.92" height="8.88" fill="#ff8989"/>
<rect x="439.16" y="656.33" width="8.92" height="8.88" fill="#4500ad"/>
<rect x="448.08" y="656.33" width="8.92" height="8.88" fill="#ffc0e5"/>
<rect x="457.00" y="656.33" width="8.92" height="8.88" fill="#4500ad"/>
<rect x="412.40" y="665.21" width="8.92" height="8.88" fill="#ffc0e5"/>
<rect x="421.32" y="665.21" width="8.92" height="8.88" fill="#ff0000"/>
<rect x="430.24" y="665.21" width="8.92" height="8.88" fill="#ff0000"/>
<rect x="439.16" y="665.21" width="8.92" height="8.88" fill="#4500ad"/>
<rect x="448.08" y="665.21" width="8.92" height="8.88" fill="#8888ff"/>
<rect x="457.00" y="665.21" width="8.92" height="8.88" fill="#4500ad"/>
<rect x="412.40" y="674.08" width="8.92" height="8.88" fill="#ff0000"/>
<rect x="421.32" y="674.08" width="8.92" height="8.88" fill="#ff0000"/>
<rect x="430.24" y="674.08" width="8.92" height="8.88" fill="#d0cdff"/>
<rect x="439.16" y="674.08" width="8.92" height="8.88" fill="#8888ff"/>
<rect x="448.08" y="674.08" width="8.92" height="8.88" fill="#ffc0e5"/>
<rect x="457.00" y="674.08" width="8.92" height="8.88" fill="#4500ad"/>
<rect x="412.40" y="682.96" width="8.92" height="8.88" fill="#ff8989"/>
<rect x="421.32" y="682.96" width="8.92" height="8.88" fill="#ff0000"/>
<rect x="430.24" y="682.96" width="8.92" height="8.88" fill="#2700d1"/>
<rect x="439.16" y="682.96" width="8.92" height="8.88" fill="#4500ad"/>
<rect x="448.08" y="682.96" width="8.92" height="8.88" fill="#4500ad"/>
<rect x="457.00" y="682.96" width="8.92" height="8.88" fill="#4500ad"/>
<rect x="412.40" y="691.84" width="8.92" height="8.88" fill="#ff5050"/>
<rect x="421.32" y="691.84" width="8.92" height="8.88" fill="#ff0000"/>
<rect x="430.24" y="691.84" width="8.92" height="8.88" fill="#4500ad"/>
<rect x="439.16" y="691.84" width="8.92" height="8.88" fill="#4500ad"/>
<rect x="448.08" y="691.84" width="8.92" height="8.88" fill="#4500ad"/>
<rect x="457.00" y="691.84" width="8.92" height="8.88" fill="#4500ad"/>
<rect x="412.40" y="700.71" width="8.92" height="8.88" fill="#ff0000"/>
<rect x="421.32" y="700.71" width="8.92" height="8.88" fill="#8888ff"/>
<rect x="430.24" y="700.71" width="8.92" height="8.88" fill="#4500ad"/>
<rect x="439.16" y="700.71" width="8.92" height="8.88" fill="#4500ad"/>
<rect x="448.08" y="700.71" width="8.92" height="8.88" fill="#4500ad"/>
<rect x="457.00" y="700.71" width="8.92" height="8.88" fill="#4500ad"/>
<rect x="412.40" y="709.59" width="8.92" height="8.88" fill="#ff0000"/>
<rect x="421.32" y="709.59" width="8.92" height="8.88" fill="#ff8989"/>
<rect x="430.24" y="709.59" width="8.92" height="8.88" fill="#d0cdff"/>
<rect x="439.16" y="709.59" width="8.92" height="8.88" fill="#ffc0e5"/>
<rect x="448.08" y="709.59" width="8.92" height="8.88" fill="#6b58ef"/>
<rect x="457.00" y="709.59" width="8.92" height="8.88" fill="#4500ad"/>
<rect x="412.40" y="718.46" width="8.92" height="8.88" fill="#ff5050"/>
<rect x="421.32" y="718.46" width="8.92" height="8.88" fill="#ff0000"/>
<rect x="430.24" y="718.46" width="8.92" height="8.88" fill="#ff5050"/>
<rect x="439.16" y="718.46" width="8.92" height="8.88" fill="#d0cdff"/>
<rect x="448.08" y="718.46" width="8.92" height="8.88" fill="#4500ad"/>
<rect x="457.00" y="718.46" width="8.92" height="8.88" fill="#d0cdff"/>
<rect x="412.40" y="727.34" width="8.92" height="8.88" fill="#d0cdff"/>
<rect x="421.32" y="727.34" width="8.92" height="8.88" fill="#ff0000"/>
<rect x="430.24" y="727.34" width="8.92" height="8.88" fill="#ff8989"/>
<rect x="439.16" y="727.34" width="8.92" height="8.88" fill="#4500ad"/>
<rect x="448.08" y="727.34" width="8.92" height="8.88" fill="#4500ad"/>
<rect x="457.00" y="727.34" width="8.92" height="8.88" fill="#6b58ef"/>
<rect x="412.40" y="736.22" width="8.92" height="8.88" fill="#d0cdff"/>
<rect x="421.32" y="736.22" width="8.92" height="8.88" fill="#ff0000"/>
<rect x="430.24" y="736.22" width="8.92" height="8.88" fill="#ff5050"/>
<rect x="439.16" y="736.22" width="8.92" height="8.88" fill="#d0cdff"/>
<rect x="448.08" y="736.22" width="8.92" height="8.88" fill="#d0cdff"/>
<rect x="457.00" y="736.22" width="8.92" height="8.88" fill="#4500ad"/>
<rect x="412.40" y="745.09" width="8.92" height="8.88" fill="#ff0000"/>
<rect x="421.32" y="745.09" width="8.92" height="8.88" fill="#d0cdff"/>
<rect x="430.24" y="745.09" width="8.92" height="8.88" fill="#d0cdff"/>
<rect x="439.16" y="745.09" width="8.92" height="8.88" fill="#ffc0e5"/>
<rect x="448.08" y="745.09" width="8.92" height="8.88" fill="#4500ad"/>
<rect x="457.00" y="745.09" width="8.92" height="8.88" fill="#4500ad"/>
<rect x="412.40" y="753.97" width="8.92" height="8.88" fill="#6b58ef"/>
<rect x="421.32" y="753.97" width="8.92" height="8.88" fill="#ff0000"/>
<rect x="430.24" y="753.97" width="8.92" height="8.88" fill="#ff8989"/>
<rect x="439.16" y="753.97" width="8.92" height="8.88" fill="#ffc0e5"/>
<rect x="448.08" y="753.97" width="8.92" height="8.88" fill="#6b58ef"/>
<rect x="457.00" y="753.97" width="8.92" height="8.88" fill="#4500ad"/>
<rect x="412.40" y="762.84" width="8.92" height="8.88" fill="#4500ad"/>
<rect x="421.32" y="762.84" width="8.92" height="8.88" fill="#ff0000"/>
<rect x="430.24" y="762.84" width="8.92" height="8.88" fill="#ff8989"/>
<rect x="439.16" y="762.84" width="8.92" height="8.88" fill="#6b58ef"/>
<rect x="448.08" y="762.84" width="8.92" height="8.88" fill="#d0cdff"/>
<rect x="457.00" y="762.84" width="8.92" height="8.88" fill="#4500ad"/>
<rect x="412.40" y="771.72" width="8.92" height="8.88" fill="#d0cdff"/>
<rect x="421.32" y="771.72" width="8.92" height="8.88" fill="#ff0000"/>
<rect x="430.24" y="771.72" width="8.92" height="8.88" fill="#2700d1"/>
<rect x="439.16" y="771.72" width="8.92" height="8.88" fill="#4500ad"/>
<rect x="448.08" y="771.72" width="8.92" height="8.88" fill="#4500ad"/>
<rect x="457.00" y="771.72" width="8.92" height="8.88" fill="#4500ad"/>
<rect x="412.40" y="780.60" width="8.92" height="8.88" fill="#4500ad"/>
<rect x="421.32" y="780.60" width="8.92" height="8.88" fill="#ff0000"/>
<rect x="430.24" y="780.60" width="8.92" height="8.88" fill="#ff0000"/>
<rect x="439.16" y="780.60" width="8.92" height="8.88" fill="#ff8989"/>
<rect x="448.08" y="780.60" width="8.92" height="8.88" fill="#4500ad"/>
<rect x="457.00" y="780.60" width="8.92" height="8.88" fill="#4500ad"/>
<rect x="412.40" y="789.47" width="8.92" height="8.88" fill="#ffc0e5"/>
<rect x="421.32" y="789.47" width="8.92" height="8.88" fill="#ff0000"/>
<rect x="430.24" y="789.47" width="8.92" height="8.88" fill="#4500ad"/>
<rect x="439.16" y="789.47" width="8.92" height="8.88" fill="#4500ad"/>
<rect x="448.08" y="789.47" width="8.92" height="8.88" fill="#4500ad"/>
<rect x="457.00" y="789.47" width="8.92" height="8.88" fill="#4500ad"/>
<rect x="412.40" y="798.35" width="8.92" height="8.88" fill="#6b58ef"/>
<rect x="421.32" y="798.35" width="8.92" height="8.88" fill="#ff0000"/>
<rect x="430.24" y="798.35" width="8.92" height="8.88" fill="#d0cdff"/>
<rect x="439.16" y="798.35" width="8.92" height="8.88" fill="#6b58ef"/>
<rect x="448.08" y="798.35" width="8.92" height="8.88" fill="#4500ad"/>
<rect x="457.00" y="798.35" width="8.92" height="8.88" fill="#8888ff"/>
<rect x="412.40" y="807.22" width="8.92" height="8.88" fill="#d0cdff"/>
<rect x="421.32" y="807.22" width="8.92" height="8.88" fill="#ff0000"/>
<rect x="430.24" y="807.22" width="8.92" height="8.88" fill="#ff8989"/>
<rect x="439.16" y="807.22" width="8.92" height="8.88" fill="#ff8989"/>
<rect x="448.08" y="807.22" width="8.92" height="8.88" fill="#4500ad"/>
<rect x="457.00" y="807.22" width="8.92" height="8.88" fill="#4500ad"/>
<rect x="412.40" y="816.10" width="8.92" height="8.88" fill="#d0cdff"/>
<rect x="421.32" y="816.10" width="8.92" height="8.88" fill="#ff0000"/>
<rect x="430.24" y="816.10" width="8.92" height="8.88" fill="#ff0000"/>
<rect x="439.16" y="816.10" width="8.92" height="8.88" fill="#8888ff"/>
<rect x="448.08" y="816.10" width="8.92" height="8.88" fill="#d0cdff"/>
<rect x="457.00" y="816.10" width="8.92" height="8.88" fill="#4500ad"/>
<rect x="412.40" y="824.98" width="8.92" height="8.88" fill="#ff8989"/>
<rect x="421.32" y="824.98" width="8.92" height="8.88" fill="#ff0000"/>
<rect x="430.24" y="824.98" width="8.92" height="8.88" fill="#ff8989"/>
<rect x="439.16" y="824.98" width="8.92" height="8.88" fill="#8888ff"/>
<rect x="448.08" y="824.98" width="8.92" height="8.88" fill="#4500ad"/>
<rect x="457.00" y="824.98" width="8.92" height="8.88" fill="#d0cdff"/>
<rect x="412.40" y="833.85" width="8.92" height="8.88" fill="#2700d1"/>
<rect x="421.32" y="833.85" width="8.92" height="8.88" fill="#ff8989"/>
<rect x="430.24" y="833.85" width="8.92" height="8.88" fill="#ff0000"/>
<rect x="439.16" y="833.85" width="8.92" height="8.88" fill="#d0cdff"/>
<rect x="448.08" y="833.85" width="8.92" height="8.88" fill="#8888ff"/>
<rect x="457.00" y="833.85" width="8.92" height="8.88" fill="#4500ad"/>
<rect x="412.40" y="842.73" width="8.92" height="8.88" fill="#8888ff"/>
<rect x="421.32" y="842.73" width="8.92" height="8.88" fill="#ff0000"/>
<rect x="430.24" y="842.73" width="8.92" height="8.88" fill="#2700d1"/>
<rect x="439.16" y="842.73" width="8.92" height="8.88" fill="#ffc0e5"/>
<rect x="448.08" y="842.73" width="8.92" height="8.88" fill="#4500ad"/>
<rect x="457.00" y="842.73" width="8.92" height="8.88" fill="#4500ad"/>
<rect x="412.40" y="851.60" width="8.92" height="8.88" fill="#ff0000"/>
<rect x="421.32" y="851.60" width="8.92" height="8.88" fill="#ffc0e5"/>
<rect x="430.24" y="851.60" width="8.92" height="8.88" fill="#ff8989"/>
<rect x="439.16" y="851.60" width="8.92" height="8.88" fill="#ff5050"/>
<rect x="448.08" y="851.60" width="8.92" height="8.88" fill="#4500ad"/>
<rect x="457.00" y="851.60" width="8.92" height="8.88" fill="#6b58ef"/>
<rect x="412.40" y="860.48" width="8.92" height="8.88" fill="#ff0000"/>
<rect x="421.32" y="860.48" width="8.92" height="8.88" fill="#ff0000"/>
<rect x="430.24" y="860.48" width="8.92" height="8.88" fill="#4500ad"/>
<rect x="439.16" y="860.48" width="8.92" height="8.88" fill="#ff8989"/>
<rect x="448.08" y="860.48" width="8.92" height="8.88" fill="#4500ad"/>
<rect x="457.00" y="860.48" width="8.92" height="8.88" fill="#8888ff"/>
<rect x="412.40" y="869.36" width="8.92" height="8.88" fill="#d0cdff"/>
<rect x="421.32" y="869.36" width="8.92" height="8.88" fill="#ff8989"/>
<rect x="430.24" y="869.36" width="8.92" height="8.88" fill="#ff0000"/>
<rect x="439.16" y="869.36" width="8.92" height="8.88" fill="#ff0000"/>
<rect x="448.08" y="869.36" width="8.92" height="8.88" fill="#4500ad"/>
<rect x="457.00" y="869.36" width="8.92" height="8.88" fill="#4500ad"/>
<rect x="412.40" y="878.23" width="8.92" height="8.88" fill="#2700d1"/>
<rect x="421.32" y="878.23" width="8.92" height="8.88" fill="#ff0000"/>
<rect x="430.24" y="878.23" width="8.92" height="8.88" fill="#4500ad"/>
<rect x="439.16" y="878.23" width="8.92" height="8.88" fill="#4500ad"/>
<rect x="448.08" y="878.23" width="8.92" height="8.88" fill="#4500ad"/>
<rect x="457.00" y="878.23" width="8.92" height="8.88" fill="#4500ad"/>
<line x1="412.40" y1="594.20" x2="465.92" y2="594.20" stroke="#141420" stroke-width="1.25"/>
<line x1="412.40" y1="603.08" x2="465.92" y2="603.08" stroke="#141420" stroke-width="1.25"/>
<line x1="412.40" y1="611.95" x2="465.92" y2="611.95" stroke="#141420" stroke-width="1.25"/>
<line x1="412.40" y1="620.83" x2="465.92" y2="620.83" stroke="#141420" stroke-width="1.25"/>
<line x1="412.40" y1="629.70" x2="465.92" y2="629.70" stroke="#141420" stroke-width="1.25"/>
<line x1="412.40" y1="638.58" x2="465.92" y2="638.58" stroke="#141420" stroke-width="1.25"/>
<line x1="412.40" y1="647.46" x2="465.92" y2="647.46" stroke="#141420" stroke-width="1.25"/>
<line x1="412.40" y1="656.33" x2="465.92" y2="656.33" stroke="#141420" stroke-width="1.25"/>
<line x1="412.40" y1="665.21" x2="465.92" y2="665.21" stroke="#141420" stroke-width="1.25"/>
<line x1="412.40" y1="674.08" x2="465.92" y2="674.08" stroke="#141420" stroke-width="1.25"/>
<line x1="412.40" y1="682.96" x2="465.92" y2="682.96" stroke="#141420" stroke-width="1.25"/>
<line x1="412.40" y1="691.84" x2="465.92" y2="691.84" stroke="#141420" stroke-width="1.25"/>
<line x1="412.40" y1="700.71" x2="465.92" y2="700.71" stroke="#141420" stroke-width="1.25"/>
<line x1="412.40" y1="709.59" x2="465.92" y2="709.59" stroke="#141420" stroke-width="1.25"/>
<line x1="412.40" y1="718.46" x2="465.92" y2="718.46" stroke="#141420" stroke-width="1.25"/>
<line x1="412.40" y1="727.34" x2="465.92" y2="727.34" stroke="#141420" stroke-width="1.25"/>
<line x1="412.40" y1="736.22" x2="465.92" y2="736.22" stroke="#141420" stroke-width="1.25"/>
<line x1="412.40" y1="745.09" x2="465.92" y2="745.09" stroke="#141420" stroke-width="1.25"/>
<line x1="412.40" y1="753.97" x2="465.92" y2="753.97" stroke="#141420" stroke-width="1.25"/>
<line x1="412.40" y1="762.84" x2="465.92" y2="762.84" stroke="#141420" stroke-width="1.25"/>
<line x1="412.40" y1="771.72" x2="465.92" y2="771.72" stroke="#141420" stroke-width="1.25"/>
<line x1="412.40" y1="780.60" x2="465.92" y2="780.60" stroke="#141420" stroke-width="1.25"/>
<line x1="412.40" y1="789.47" x2="465.92" y2="789.47" stroke="#141420" stroke-width="1.25"/>
<line x1="412.40" y1="798.35" x2="465.92" y2="798.35" stroke="#141420" stroke-width="1.25"/>
<line x1="412.40" y1="807.22" x2="465.92" y2="807.22" stroke="#141420" stroke-width="1.25"/>
<line x1="412.40" y1="816.10" x2="465.92" y2="816.10" stroke="#141420" stroke-width="1.25"/>
<line x1="412.40" y1="824.98" x2="465.92" y2="824.98" stroke="#141420" stroke-width="1.25"/>
<line x1="412.40" y1="833.85" x2="465.92" y2="833.85" stroke="#141420" stroke-width="1.25"/>
<line x1="412.40" y1="842.73" x2="465.92" y2="842.73" stroke="#141420" stroke-width="1.25"/>
<line x1="412.40" y1="851.60" x2="465.92" y2="851.60" stroke="#141420" stroke-width="1.25"/>
<line x1="412.40" y1="860.48" x2="465.92" y2="860.48" stroke="#141420" stroke-width="1.25"/>
<line x1="412.40" y1="869.36" x2="465.92" y2="869.36" stroke="#141420" stroke-width="1.25"/>
<line x1="412.40" y1="878.23" x2="465.92" y2="878.23" stroke="#141420" stroke-width="1.25"/>
<line x1="412.40" y1="887.11" x2="465.92" y2="887.11" stroke="#141420" stroke-width="1.25"/>
<line x1="412.40" y1="594.20" x2="412.40" y2="887.11" stroke="#141420" stroke-width="1.25"/>
<line x1="412.40" y1="485.60" x2="412.40" y2="594.20" stroke="#707070" stroke-width="1"/>
<line x1="421.32" y1="594.20" x2="421.32" y2="887.11" stroke="#141420" stroke-width="1.25"/>
<line x1="421.32" y1="485.60" x2="421.32" y2="594.20" stroke="#707070" stroke-width="1"/>
<line x1="430.24" y1="594.20" x2="430.24" y2="887.11" stroke="#141420" stroke-width="1.25"/>
<line x1="430.24" y1="485.60" x2="430.24" y2="594.20" stroke="#707070" stroke-width="1"/>
<line x1="439.16" y1="594.20" x2="439.16" y2="887.11" stroke="#141420" stroke-width="1.25"/>
<line x1="439.16" y1="485.60" x2="439.16" y2="594.20" stroke="#707070" stroke-width="1"/>
<line x1="448.08" y1="594.20" x2="448.08" y2="887.11" stroke="#141420" stroke-width="1.25"/>
<line x1="448.08" y1="485.60" x2="448.08" y2="594.20" stroke="#707070" stroke-width="1"/>
<line x1="457.00" y1="594.20" x2="457.00" y2="887.11" stroke="#141420" stroke-width="1.25"/>
<line x1="457.00" y1="485.60" x2="457.00" y2="594.20" stroke="#707070" stroke-width="1"/>
<line x1="465.92" y1="594.20" x2="465.92" y2="887.11" stroke="#141420" stroke-width="1.25"/>
<line x1="465.92" y1="485.60" x2="465.92" y2="594.20" stroke="#707070" stroke-width="1"/>
<line x1="412.40" y1="575.60" x2="465.92" y2="575.60" stroke="#707070" stroke-width="0.8"/>
<text x="473.6" y="586.5999999999999" font-family="&quot;Liberation Mono&quot;, monospace" font-size="10.8" fill="#505050" stroke="#505050" stroke-width="0.15">SampleName</text>
<line x1="465.92" y1="594.20" x2="543.4" y2="594.20" stroke="#606060" stroke-width="1.6"/>
<line x1="465.92" y1="603.28" x2="543.4" y2="603.28" stroke="#6a6a6a" stroke-width="1.3"/>
<text x="0" y="0" transform="translate(472.92,602.88) scale(1,0.88)" font-family="&quot;Liberation Mono&quot;, monospace" font-size="8.6" fill="#1e1e1e" stroke="#1e1e1e" stroke-width="0.15">Itgb2</text>
<line x1="465.92" y1="612.15" x2="543.4" y2="612.15" stroke="#6a6a6a" stroke-width="1.3"/>
<text x="0" y="0" transform="translate(472.92,611.75) scale(1,0.88)" font-family="&quot;Liberation Mono&quot;, monospace" font-size="8.6" fill="#1e1e1e" stroke="#1e1e1e" stroke-width="0.15">Birc3</text>
<line x1="465.92" y1="621.03" x2="543.4" y2="621.03" stroke="#6a6a6a" stroke-width="1.3"/>
<text x="0" y="0" transform="translate(472.92,620.63) scale(1,0.88)" font-family="&quot;Liberation Mono&quot;, monospace" font-size="8.6" fill="#1e1e1e" stroke="#1e1e1e" stroke-width="0.15">Plcg2</text>
<line x1="465.92" y1="629.90" x2="543.4" y2="629.90" stroke="#6a6a6a" stroke-width="1.3"/>
<text x="0" y="0" transform="translate(472.92,629.50) scale(1,0.88)" font-family="&quot;Liberation Mono&quot;, monospace" font-size="8.6" fill="#1e1e1e" stroke="#1e1e1e" stroke-width="0.15">Irf7</text>
<line x1="465.92" y1="638.78" x2="543.4" y2="638.78" stroke="#6a6a6a" stroke-width="1.3"/>
<text x="0" y="0" transform="translate(472.92,638.38) scale(1,0.88)" font-family="&quot;Liberation Mono&quot;, monospace" font-size="8.6" fill="#1e1e1e" stroke="#1e1e1e" stroke-width="0.15">Ly86</text>
<line x1="465.92" y1="647.66" x2="543.4" y2="647.66" stroke="#6a6a6a" stroke-width="1.3"/>
<text x="0" y="0" transform="translate(472.92,647.26) scale(1,0.88)" font-family="&quot;Liberation Mono&quot;, monospace" font-size="8.6" fill="#1e1e1e" stroke="#1e1e1e" stroke-width="0.15">Itgam</text>
<line x1="465.92" y1="656.53" x2="543.4" y2="656.53" stroke="#6a6a6a" stroke-width="1.3"/>
<text x="0" y="0" transform="translate(472.92,656.13) scale(1,0.88)" font-family="&quot;Liberation Mono&quot;, monospace" font-size="8.6" fill="#1e1e1e" stroke="#1e1e1e" stroke-width="0.15">Fos</text>
<line x1="465.92" y1="665.41" x2="543.4" y2="665.41" stroke="#6a6a6a" stroke-width="1.3"/>
<text x="0" y="0" transform="translate(472.92,665.01) scale(1,0.88)" font-family="&quot;Liberation Mono&quot;, monospace" font-size="8.6" fill="#1e1e1e" stroke="#1e1e1e" stroke-width="0.15">Usp18</text>
<line x1="465.92" y1="674.28" x2="543.4" y2="674.28" stroke="#6a6a6a" stroke-width="1.3"/>
<text x="0" y="0" transform="translate(472.92,673.88) scale(1,0.88)" font-family="&quot;Liberation Mono&quot;, monospace" font-size="8.6" fill="#1e1e1e" stroke="#1e1e1e" stroke-width="0.15">Casp8</text>
<line x1="465.92" y1="683.16" x2="543.4" y2="683.16" stroke="#6a6a6a" stroke-width="1.3"/>
<text x="0" y="0" transform="translate(472.92,682.76) scale(1,0.88)" font-family="&quot;Liberation Mono&quot;, monospace" font-size="8.6" fill="#1e1e1e" stroke="#1e1e1e" stroke-width="0.15">Nfkbia</text>
<line x1="465.92" y1="692.04" x2="543.4" y2="692.04" stroke="#6a6a6a" stroke-width="1.3"/>
<text x="0" y="0" transform="translate(472.92,691.64) scale(1,0.88)" font-family="&quot;Liberation Mono&quot;, monospace" font-size="8.6" fill="#1e1e1e" stroke="#1e1e1e" stroke-width="0.15">Sftpa1</text>
<line x1="465.92" y1="700.91" x2="543.4" y2="700.91" stroke="#6a6a6a" stroke-width="1.3"/>
<text x="0" y="0" transform="translate(472.92,700.51) scale(1,0.88)" font-family="&quot;Liberation Mono&quot;, monospace" font-size="8.6" fill="#1e1e1e" stroke="#1e1e1e" stroke-width="0.15">Ager</text>
<line x1="465.92" y1="709.79" x2="543.4" y2="709.79" stroke="#6a6a6a" stroke-width="1.3"/>
<text x="0" y="0" transform="translate(472.92,709.39) scale(1,0.88)" font-family="&quot;Liberation Mono&quot;, monospace" font-size="8.6" fill="#1e1e1e" stroke="#1e1e1e" stroke-width="0.15">Ripk3</text>
<line x1="465.92" y1="718.66" x2="543.4" y2="718.66" stroke="#6a6a6a" stroke-width="1.3"/>
<text x="0" y="0" transform="translate(472.92,718.26) scale(1,0.88)" font-family="&quot;Liberation Mono&quot;, monospace" font-size="8.6" fill="#1e1e1e" stroke="#1e1e1e" stroke-width="0.15">Traf3</text>
<line x1="465.92" y1="727.54" x2="543.4" y2="727.54" stroke="#6a6a6a" stroke-width="1.3"/>
<text x="0" y="0" transform="translate(472.92,727.14) scale(1,0.88)" font-family="&quot;Liberation Mono&quot;, monospace" font-size="8.6" fill="#1e1e1e" stroke="#1e1e1e" stroke-width="0.15">Mapk14</text>
<line x1="465.92" y1="736.42" x2="543.4" y2="736.42" stroke="#6a6a6a" stroke-width="1.3"/>
<text x="0" y="0" transform="translate(472.92,736.02) scale(1,0.88)" font-family="&quot;Liberation Mono&quot;, monospace" font-size="8.6" fill="#1e1e1e" stroke="#1e1e1e" stroke-width="0.15">Ly96</text>
<line x1="465.92" y1="745.29" x2="543.4" y2="745.29" stroke="#6a6a6a" stroke-width="1.3"/>
<text x="0" y="0" transform="translate(472.92,744.89) scale(1,0.88)" font-family="&quot;Liberation Mono&quot;, monospace" font-size="8.6" fill="#1e1e1e" stroke="#1e1e1e" stroke-width="0.15">Tlr4</text>
<line x1="465.92" y1="754.17" x2="543.4" y2="754.17" stroke="#6a6a6a" stroke-width="1.3"/>
<text x="0" y="0" transform="translate(472.92,753.77) scale(1,0.88)" font-family="&quot;Liberation Mono&quot;, monospace" font-size="8.6" fill="#1e1e1e" stroke="#1e1e1e" stroke-width="0.15">Dusp6</text>
<line x1="465.92" y1="763.04" x2="543.4" y2="763.04" stroke="#6a6a6a" stroke-width="1.3"/>
<text x="0" y="0" transform="translate(472.92,762.64) scale(1,0.88)" font-family="&quot;Liberation Mono&quot;, monospace" font-size="8.6" fill="#1e1e1e" stroke="#1e1e1e" stroke-width="0.15">Peli3</text>
<line x1="465.92" y1="771.92" x2="543.4" y2="771.92" stroke="#6a6a6a" stroke-width="1.3"/>
<text x="0" y="0" transform="translate(472.92,771.52) scale(1,0.88)" font-family="&quot;Liberation Mono&quot;, monospace" font-size="8.6" fill="#1e1e1e" stroke="#1e1e1e" stroke-width="0.15">Nfkb2</text>
<line x1="465.92" y1="780.80" x2="543.4" y2="780.80" stroke="#6a6a6a" stroke-width="1.3"/>
<text x="0" y="0" transform="translate(472.92,780.40) scale(1,0.88)" font-family="&quot;Liberation Mono&quot;, monospace" font-size="8.6" fill="#1e1e1e" stroke="#1e1e1e" stroke-width="0.15">Bpi</text>
<line x1="465.92" y1="789.67" x2="543.4" y2="789.67" stroke="#6a6a6a" stroke-width="1.3"/>
<text x="0" y="0" transform="translate(472.92,789.27) scale(1,0.88)" font-family="&quot;Liberation Mono&quot;, monospace" font-size="8.6" fill="#1e1e1e" stroke="#1e1e1e" stroke-width="0.15">Cd14</text>
<line x1="465.92" y1="798.55" x2="543.4" y2="798.55" stroke="#6a6a6a" stroke-width="1.3"/>
<text x="0" y="0" transform="translate(472.92,798.15) scale(1,0.88)" font-family="&quot;Liberation Mono&quot;, monospace" font-size="8.6" fill="#1e1e1e" stroke="#1e1e1e" stroke-width="0.15">Ptpn4</text>
<line x1="465.92" y1="807.42" x2="543.4" y2="807.42" stroke="#6a6a6a" stroke-width="1.3"/>
<text x="0" y="0" transform="translate(472.92,807.02) scale(1,0.88)" font-family="&quot;Liberation Mono&quot;, monospace" font-size="8.6" fill="#1e1e1e" stroke="#1e1e1e" stroke-width="0.15">Traf2</text>
<line x1="465.92" y1="816.30" x2="543.4" y2="816.30" stroke="#6a6a6a" stroke-width="1.3"/>
<text x="0" y="0" transform="translate(472.92,815.90) scale(1,0.88)" font-family="&quot;Liberation Mono&quot;, monospace" font-size="8.6" fill="#1e1e1e" stroke="#1e1e1e" stroke-width="0.15">Map3k8</text>
<line x1="465.92" y1="825.18" x2="543.4" y2="825.18" stroke="#6a6a6a" stroke-width="1.3"/>
<text x="0" y="0" transform="translate(472.92,824.78) scale(1,0.88)" font-family="&quot;Liberation Mono&quot;, monospace" font-size="8.6" fill="#1e1e1e" stroke="#1e1e1e" stroke-width="0.15">Mapkapk2</text>
<line x1="465.92" y1="834.05" x2="543.4" y2="834.05" stroke="#6a6a6a" stroke-width="1.3"/>
<text x="0" y="0" transform="translate(472.92,833.65) scale(1,0.88)" font-family="&quot;Liberation Mono&quot;, monospace" font-size="8.6" fill="#1e1e1e" stroke="#1e1e1e" stroke-width="0.15">Dnm1</text>
<line x1="465.92" y1="842.93" x2="543.4" y2="842.93" stroke="#6a6a6a" stroke-width="1.3"/>
<text x="0" y="0" transform="translate(472.92,842.53) scale(1,0.88)" font-family="&quot;Liberation Mono&quot;, monospace" font-size="8.6" fill="#1e1e1e" stroke="#1e1e1e" stroke-width="0.15">Ripk1</text>
<line x1="465.92" y1="851.80" x2="543.4" y2="851.80" stroke="#6a6a6a" stroke-width="1.3"/>
<text x="0" y="0" transform="translate(472.92,851.40) scale(1,0.88)" font-family="&quot;Liberation Mono&quot;, monospace" font-size="8.6" fill="#1e1e1e" stroke="#1e1e1e" stroke-width="0.15">Ikbke</text>
<line x1="465.92" y1="860.68" x2="543.4" y2="860.68" stroke="#6a6a6a" stroke-width="1.3"/>
<text x="0" y="0" transform="translate(472.92,860.28) scale(1,0.88)" font-family="&quot;Liberation Mono&quot;, monospace" font-size="8.6" fill="#1e1e1e" stroke="#1e1e1e" stroke-width="0.15">Map2k3</text>
<line x1="465.92" y1="869.56" x2="543.4" y2="869.56" stroke="#6a6a6a" stroke-width="1.3"/>
<text x="0" y="0" transform="translate(472.92,869.16) scale(1,0.88)" font-family="&quot;Liberation Mono&quot;, monospace" font-size="8.6" fill="#1e1e1e" stroke="#1e1e1e" stroke-width="0.15">Mapk11</text>
<line x1="465.92" y1="878.43" x2="543.4" y2="878.43" stroke="#6a6a6a" stroke-width="1.3"/>
<text x="0" y="0" transform="translate(472.92,878.03) scale(1,0.88)" font-family="&quot;Liberation Mono&quot;, monospace" font-size="8.6" fill="#1e1e1e" stroke="#1e1e1e" stroke-width="0.15">Dusp4</text>
<line x1="465.92" y1="887.31" x2="543.4" y2="887.31" stroke="#6a6a6a" stroke-width="1.3"/>
<text x="0" y="0" transform="translate(472.92,886.91) scale(1,0.88)" font-family="&quot;Liberation Mono&quot;, monospace" font-size="8.6" fill="#1e1e1e" stroke="#1e1e1e" stroke-width="0.15">Cd180</text>
<rect x="467.3" y="499" width="1.5" height="3" fill="#b0b0b0"/>
<rect x="467.3" y="540" width="1.5" height="3" fill="#b0b0b0"/>
</svg>
</body></html>
